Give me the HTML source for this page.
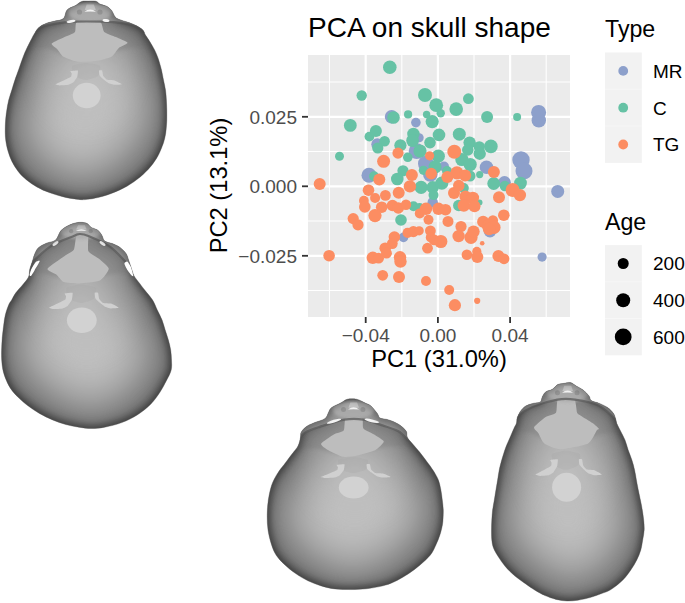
<!DOCTYPE html>
<html><head><meta charset="utf-8"><style>
html,body{margin:0;padding:0;background:#fff;width:685px;height:603px;overflow:hidden}
svg{display:block}
text{font-family:"Liberation Sans",sans-serif}
</style></head><body>
<svg width="685" height="603" viewBox="0 0 685 603">
<defs>
<filter id="sh0" x="-10%" y="-10%" width="120%" height="120%"><feMorphology operator="erode" radius="3"/><feGaussianBlur stdDeviation="6"/></filter><filter id="sh1" x="-10%" y="-10%" width="120%" height="120%"><feMorphology operator="erode" radius="16"/><feGaussianBlur stdDeviation="10"/></filter><filter id="sh2" x="-10%" y="-10%" width="120%" height="120%"><feMorphology operator="erode" radius="23"/><feGaussianBlur stdDeviation="19"/></filter><filter id="bu" x="-50%" y="-50%" width="200%" height="200%"><feGaussianBlur stdDeviation="10"/></filter><filter id="bl2" x="-20%" y="-20%" width="140%" height="140%"><feGaussianBlur stdDeviation="1.8"/></filter><filter id="be1" x="-20%" y="-20%" width="140%" height="140%"><feGaussianBlur stdDeviation="2.5"/></filter><filter id="be2" x="-20%" y="-20%" width="140%" height="140%"><feGaussianBlur stdDeviation="10"/></filter><filter id="bl1" x="-20%" y="-20%" width="140%" height="140%"><feGaussianBlur stdDeviation="0.7"/></filter>
</defs>
<!-- SKULLS -->
<g id="skulls">
<clipPath id="c0"><path d="M63.4,18.6 C65.5,16.7 65.1,12.1 67.1,9.9 C69.1,7.7 73.0,7.0 75.4,5.6 C77.8,4.2 79.4,2.3 81.6,1.5 C83.8,0.7 86.3,1.1 88.7,1.0 C91.1,0.9 94.0,0.7 95.9,1.2 C97.8,1.7 98.2,3.2 100.0,4.1 C101.8,5.0 105.1,5.4 107.0,6.4 C108.9,7.5 110.2,8.7 111.6,10.4 C112.9,12.1 113.9,15.3 115.1,16.8 C116.3,18.3 116.3,18.2 118.6,19.2 C120.9,20.2 125.9,21.5 129.0,22.6 C132.1,23.8 134.8,24.8 137.1,26.1 C139.4,27.4 141.6,28.8 143.0,30.2 C144.4,31.6 144.2,32.9 145.3,34.8 C146.5,36.7 148.4,39.3 149.9,41.8 C151.4,44.3 153.2,47.2 154.6,49.9 C155.9,52.6 156.8,54.6 158.0,58.0 C159.2,61.4 160.6,66.3 161.5,70.0 C162.4,73.7 162.8,76.7 163.5,80.0 C164.2,83.3 165.0,86.7 165.5,90.0 C166.0,93.3 166.2,96.7 166.4,100.0 C166.6,103.3 166.7,106.7 166.8,110.0 C166.9,113.3 166.9,116.7 166.8,120.0 C166.7,123.3 166.4,127.0 166.1,130.0 C165.8,133.0 165.4,135.4 164.8,138.0 C164.2,140.6 163.7,142.5 162.5,145.5 C161.3,148.5 159.9,152.5 157.9,156.0 C155.9,159.5 153.6,163.0 150.7,166.5 C147.8,170.0 144.1,173.7 140.2,177.0 C136.2,180.3 131.8,183.4 127.0,186.2 C122.2,188.9 116.5,191.5 111.3,193.5 C106.0,195.5 99.9,197.1 95.5,198.1 C91.1,199.1 87.8,199.4 85.0,199.6 C82.2,199.8 82.0,199.8 78.8,199.4 C75.6,199.0 70.5,198.5 65.7,197.4 C60.9,196.3 54.7,194.6 49.9,192.8 C45.1,191.1 40.7,189.1 36.8,186.9 C32.9,184.7 29.4,182.2 26.3,179.7 C23.2,177.2 20.8,174.9 18.4,171.8 C16.0,168.7 13.6,164.8 11.8,161.3 C10.1,157.8 8.9,154.1 7.9,150.8 C6.9,147.5 6.4,144.7 5.9,141.6 C5.5,138.5 5.2,135.6 5.2,132.0 C5.2,128.4 5.3,123.7 5.6,120.0 C5.9,116.3 6.3,113.3 6.8,110.0 C7.3,106.7 7.9,103.3 8.7,100.0 C9.5,96.7 10.8,93.3 11.8,90.0 C12.8,86.7 14.0,82.8 14.9,80.0 C15.8,77.2 16.6,75.3 17.4,73.0 C18.2,70.7 19.0,68.5 19.9,65.9 C20.8,63.3 21.9,60.1 23.0,57.2 C24.1,54.3 25.3,51.4 26.7,48.5 C28.1,45.6 29.8,42.4 31.1,39.8 C32.5,37.2 33.3,35.1 34.8,32.9 C36.2,30.7 37.7,28.3 39.8,26.7 C41.9,25.1 44.7,23.9 47.2,23.0 C49.7,22.1 52.0,21.8 54.7,21.1 C57.4,20.4 61.3,20.5 63.4,18.6Z"/></clipPath>
<path d="M63.4,18.6 C65.5,16.7 65.1,12.1 67.1,9.9 C69.1,7.7 73.0,7.0 75.4,5.6 C77.8,4.2 79.4,2.3 81.6,1.5 C83.8,0.7 86.3,1.1 88.7,1.0 C91.1,0.9 94.0,0.7 95.9,1.2 C97.8,1.7 98.2,3.2 100.0,4.1 C101.8,5.0 105.1,5.4 107.0,6.4 C108.9,7.5 110.2,8.7 111.6,10.4 C112.9,12.1 113.9,15.3 115.1,16.8 C116.3,18.3 116.3,18.2 118.6,19.2 C120.9,20.2 125.9,21.5 129.0,22.6 C132.1,23.8 134.8,24.8 137.1,26.1 C139.4,27.4 141.6,28.8 143.0,30.2 C144.4,31.6 144.2,32.9 145.3,34.8 C146.5,36.7 148.4,39.3 149.9,41.8 C151.4,44.3 153.2,47.2 154.6,49.9 C155.9,52.6 156.8,54.6 158.0,58.0 C159.2,61.4 160.6,66.3 161.5,70.0 C162.4,73.7 162.8,76.7 163.5,80.0 C164.2,83.3 165.0,86.7 165.5,90.0 C166.0,93.3 166.2,96.7 166.4,100.0 C166.6,103.3 166.7,106.7 166.8,110.0 C166.9,113.3 166.9,116.7 166.8,120.0 C166.7,123.3 166.4,127.0 166.1,130.0 C165.8,133.0 165.4,135.4 164.8,138.0 C164.2,140.6 163.7,142.5 162.5,145.5 C161.3,148.5 159.9,152.5 157.9,156.0 C155.9,159.5 153.6,163.0 150.7,166.5 C147.8,170.0 144.1,173.7 140.2,177.0 C136.2,180.3 131.8,183.4 127.0,186.2 C122.2,188.9 116.5,191.5 111.3,193.5 C106.0,195.5 99.9,197.1 95.5,198.1 C91.1,199.1 87.8,199.4 85.0,199.6 C82.2,199.8 82.0,199.8 78.8,199.4 C75.6,199.0 70.5,198.5 65.7,197.4 C60.9,196.3 54.7,194.6 49.9,192.8 C45.1,191.1 40.7,189.1 36.8,186.9 C32.9,184.7 29.4,182.2 26.3,179.7 C23.2,177.2 20.8,174.9 18.4,171.8 C16.0,168.7 13.6,164.8 11.8,161.3 C10.1,157.8 8.9,154.1 7.9,150.8 C6.9,147.5 6.4,144.7 5.9,141.6 C5.5,138.5 5.2,135.6 5.2,132.0 C5.2,128.4 5.3,123.7 5.6,120.0 C5.9,116.3 6.3,113.3 6.8,110.0 C7.3,106.7 7.9,103.3 8.7,100.0 C9.5,96.7 10.8,93.3 11.8,90.0 C12.8,86.7 14.0,82.8 14.9,80.0 C15.8,77.2 16.6,75.3 17.4,73.0 C18.2,70.7 19.0,68.5 19.9,65.9 C20.8,63.3 21.9,60.1 23.0,57.2 C24.1,54.3 25.3,51.4 26.7,48.5 C28.1,45.6 29.8,42.4 31.1,39.8 C32.5,37.2 33.3,35.1 34.8,32.9 C36.2,30.7 37.7,28.3 39.8,26.7 C41.9,25.1 44.7,23.9 47.2,23.0 C49.7,22.1 52.0,21.8 54.7,21.1 C57.4,20.4 61.3,20.5 63.4,18.6Z" fill="rgb(70,70,70)"/>
<g clip-path="url(#c0)"><path d="M63.4,18.6 C65.5,16.7 65.1,12.1 67.1,9.9 C69.1,7.7 73.0,7.0 75.4,5.6 C77.8,4.2 79.4,2.3 81.6,1.5 C83.8,0.7 86.3,1.1 88.7,1.0 C91.1,0.9 94.0,0.7 95.9,1.2 C97.8,1.7 98.2,3.2 100.0,4.1 C101.8,5.0 105.1,5.4 107.0,6.4 C108.9,7.5 110.2,8.7 111.6,10.4 C112.9,12.1 113.9,15.3 115.1,16.8 C116.3,18.3 116.3,18.2 118.6,19.2 C120.9,20.2 125.9,21.5 129.0,22.6 C132.1,23.8 134.8,24.8 137.1,26.1 C139.4,27.4 141.6,28.8 143.0,30.2 C144.4,31.6 144.2,32.9 145.3,34.8 C146.5,36.7 148.4,39.3 149.9,41.8 C151.4,44.3 153.2,47.2 154.6,49.9 C155.9,52.6 156.8,54.6 158.0,58.0 C159.2,61.4 160.6,66.3 161.5,70.0 C162.4,73.7 162.8,76.7 163.5,80.0 C164.2,83.3 165.0,86.7 165.5,90.0 C166.0,93.3 166.2,96.7 166.4,100.0 C166.6,103.3 166.7,106.7 166.8,110.0 C166.9,113.3 166.9,116.7 166.8,120.0 C166.7,123.3 166.4,127.0 166.1,130.0 C165.8,133.0 165.4,135.4 164.8,138.0 C164.2,140.6 163.7,142.5 162.5,145.5 C161.3,148.5 159.9,152.5 157.9,156.0 C155.9,159.5 153.6,163.0 150.7,166.5 C147.8,170.0 144.1,173.7 140.2,177.0 C136.2,180.3 131.8,183.4 127.0,186.2 C122.2,188.9 116.5,191.5 111.3,193.5 C106.0,195.5 99.9,197.1 95.5,198.1 C91.1,199.1 87.8,199.4 85.0,199.6 C82.2,199.8 82.0,199.8 78.8,199.4 C75.6,199.0 70.5,198.5 65.7,197.4 C60.9,196.3 54.7,194.6 49.9,192.8 C45.1,191.1 40.7,189.1 36.8,186.9 C32.9,184.7 29.4,182.2 26.3,179.7 C23.2,177.2 20.8,174.9 18.4,171.8 C16.0,168.7 13.6,164.8 11.8,161.3 C10.1,157.8 8.9,154.1 7.9,150.8 C6.9,147.5 6.4,144.7 5.9,141.6 C5.5,138.5 5.2,135.6 5.2,132.0 C5.2,128.4 5.3,123.7 5.6,120.0 C5.9,116.3 6.3,113.3 6.8,110.0 C7.3,106.7 7.9,103.3 8.7,100.0 C9.5,96.7 10.8,93.3 11.8,90.0 C12.8,86.7 14.0,82.8 14.9,80.0 C15.8,77.2 16.6,75.3 17.4,73.0 C18.2,70.7 19.0,68.5 19.9,65.9 C20.8,63.3 21.9,60.1 23.0,57.2 C24.1,54.3 25.3,51.4 26.7,48.5 C28.1,45.6 29.8,42.4 31.1,39.8 C32.5,37.2 33.3,35.1 34.8,32.9 C36.2,30.7 37.7,28.3 39.8,26.7 C41.9,25.1 44.7,23.9 47.2,23.0 C49.7,22.1 52.0,21.8 54.7,21.1 C57.4,20.4 61.3,20.5 63.4,18.6Z" fill="rgb(192,192,192)" fill-opacity="0.4" filter="url(#sh0)"/><path d="M63.4,18.6 C65.5,16.7 65.1,12.1 67.1,9.9 C69.1,7.7 73.0,7.0 75.4,5.6 C77.8,4.2 79.4,2.3 81.6,1.5 C83.8,0.7 86.3,1.1 88.7,1.0 C91.1,0.9 94.0,0.7 95.9,1.2 C97.8,1.7 98.2,3.2 100.0,4.1 C101.8,5.0 105.1,5.4 107.0,6.4 C108.9,7.5 110.2,8.7 111.6,10.4 C112.9,12.1 113.9,15.3 115.1,16.8 C116.3,18.3 116.3,18.2 118.6,19.2 C120.9,20.2 125.9,21.5 129.0,22.6 C132.1,23.8 134.8,24.8 137.1,26.1 C139.4,27.4 141.6,28.8 143.0,30.2 C144.4,31.6 144.2,32.9 145.3,34.8 C146.5,36.7 148.4,39.3 149.9,41.8 C151.4,44.3 153.2,47.2 154.6,49.9 C155.9,52.6 156.8,54.6 158.0,58.0 C159.2,61.4 160.6,66.3 161.5,70.0 C162.4,73.7 162.8,76.7 163.5,80.0 C164.2,83.3 165.0,86.7 165.5,90.0 C166.0,93.3 166.2,96.7 166.4,100.0 C166.6,103.3 166.7,106.7 166.8,110.0 C166.9,113.3 166.9,116.7 166.8,120.0 C166.7,123.3 166.4,127.0 166.1,130.0 C165.8,133.0 165.4,135.4 164.8,138.0 C164.2,140.6 163.7,142.5 162.5,145.5 C161.3,148.5 159.9,152.5 157.9,156.0 C155.9,159.5 153.6,163.0 150.7,166.5 C147.8,170.0 144.1,173.7 140.2,177.0 C136.2,180.3 131.8,183.4 127.0,186.2 C122.2,188.9 116.5,191.5 111.3,193.5 C106.0,195.5 99.9,197.1 95.5,198.1 C91.1,199.1 87.8,199.4 85.0,199.6 C82.2,199.8 82.0,199.8 78.8,199.4 C75.6,199.0 70.5,198.5 65.7,197.4 C60.9,196.3 54.7,194.6 49.9,192.8 C45.1,191.1 40.7,189.1 36.8,186.9 C32.9,184.7 29.4,182.2 26.3,179.7 C23.2,177.2 20.8,174.9 18.4,171.8 C16.0,168.7 13.6,164.8 11.8,161.3 C10.1,157.8 8.9,154.1 7.9,150.8 C6.9,147.5 6.4,144.7 5.9,141.6 C5.5,138.5 5.2,135.6 5.2,132.0 C5.2,128.4 5.3,123.7 5.6,120.0 C5.9,116.3 6.3,113.3 6.8,110.0 C7.3,106.7 7.9,103.3 8.7,100.0 C9.5,96.7 10.8,93.3 11.8,90.0 C12.8,86.7 14.0,82.8 14.9,80.0 C15.8,77.2 16.6,75.3 17.4,73.0 C18.2,70.7 19.0,68.5 19.9,65.9 C20.8,63.3 21.9,60.1 23.0,57.2 C24.1,54.3 25.3,51.4 26.7,48.5 C28.1,45.6 29.8,42.4 31.1,39.8 C32.5,37.2 33.3,35.1 34.8,32.9 C36.2,30.7 37.7,28.3 39.8,26.7 C41.9,25.1 44.7,23.9 47.2,23.0 C49.7,22.1 52.0,21.8 54.7,21.1 C57.4,20.4 61.3,20.5 63.4,18.6Z" fill="rgb(192,192,192)" fill-opacity="0.25" filter="url(#sh1)"/><path d="M63.4,18.6 C65.5,16.7 65.1,12.1 67.1,9.9 C69.1,7.7 73.0,7.0 75.4,5.6 C77.8,4.2 79.4,2.3 81.6,1.5 C83.8,0.7 86.3,1.1 88.7,1.0 C91.1,0.9 94.0,0.7 95.9,1.2 C97.8,1.7 98.2,3.2 100.0,4.1 C101.8,5.0 105.1,5.4 107.0,6.4 C108.9,7.5 110.2,8.7 111.6,10.4 C112.9,12.1 113.9,15.3 115.1,16.8 C116.3,18.3 116.3,18.2 118.6,19.2 C120.9,20.2 125.9,21.5 129.0,22.6 C132.1,23.8 134.8,24.8 137.1,26.1 C139.4,27.4 141.6,28.8 143.0,30.2 C144.4,31.6 144.2,32.9 145.3,34.8 C146.5,36.7 148.4,39.3 149.9,41.8 C151.4,44.3 153.2,47.2 154.6,49.9 C155.9,52.6 156.8,54.6 158.0,58.0 C159.2,61.4 160.6,66.3 161.5,70.0 C162.4,73.7 162.8,76.7 163.5,80.0 C164.2,83.3 165.0,86.7 165.5,90.0 C166.0,93.3 166.2,96.7 166.4,100.0 C166.6,103.3 166.7,106.7 166.8,110.0 C166.9,113.3 166.9,116.7 166.8,120.0 C166.7,123.3 166.4,127.0 166.1,130.0 C165.8,133.0 165.4,135.4 164.8,138.0 C164.2,140.6 163.7,142.5 162.5,145.5 C161.3,148.5 159.9,152.5 157.9,156.0 C155.9,159.5 153.6,163.0 150.7,166.5 C147.8,170.0 144.1,173.7 140.2,177.0 C136.2,180.3 131.8,183.4 127.0,186.2 C122.2,188.9 116.5,191.5 111.3,193.5 C106.0,195.5 99.9,197.1 95.5,198.1 C91.1,199.1 87.8,199.4 85.0,199.6 C82.2,199.8 82.0,199.8 78.8,199.4 C75.6,199.0 70.5,198.5 65.7,197.4 C60.9,196.3 54.7,194.6 49.9,192.8 C45.1,191.1 40.7,189.1 36.8,186.9 C32.9,184.7 29.4,182.2 26.3,179.7 C23.2,177.2 20.8,174.9 18.4,171.8 C16.0,168.7 13.6,164.8 11.8,161.3 C10.1,157.8 8.9,154.1 7.9,150.8 C6.9,147.5 6.4,144.7 5.9,141.6 C5.5,138.5 5.2,135.6 5.2,132.0 C5.2,128.4 5.3,123.7 5.6,120.0 C5.9,116.3 6.3,113.3 6.8,110.0 C7.3,106.7 7.9,103.3 8.7,100.0 C9.5,96.7 10.8,93.3 11.8,90.0 C12.8,86.7 14.0,82.8 14.9,80.0 C15.8,77.2 16.6,75.3 17.4,73.0 C18.2,70.7 19.0,68.5 19.9,65.9 C20.8,63.3 21.9,60.1 23.0,57.2 C24.1,54.3 25.3,51.4 26.7,48.5 C28.1,45.6 29.8,42.4 31.1,39.8 C32.5,37.2 33.3,35.1 34.8,32.9 C36.2,30.7 37.7,28.3 39.8,26.7 C41.9,25.1 44.7,23.9 47.2,23.0 C49.7,22.1 52.0,21.8 54.7,21.1 C57.4,20.4 61.3,20.5 63.4,18.6Z" fill="rgb(192,192,192)" fill-opacity="1.0" filter="url(#sh2)"/></g>
<g clip-path="url(#c0)">
<ellipse cx="86.0" cy="68.6" rx="48.5" ry="59.0" fill="rgb(190,190,190)" opacity="0.2" filter="url(#bu)"/>
<path d="M28.0,37.0 C29.4,35.0 37.3,28.8 40.0,27.5 C42.7,26.2 51.0,24.5 54.6,23.9 C58.2,23.3 71.8,21.9 76.5,21.7 C81.2,21.5 96.8,21.6 101.3,21.7 C105.8,21.8 118.0,22.5 121.8,23.1 C125.6,23.7 136.5,26.1 139.3,27.5 C142.1,28.9 148.7,35.1 150.0,37.0 C151.3,38.9 153.8,45.7 152.0,46.8 C150.2,47.9 139.0,46.5 131.6,47.8 C124.2,49.1 86.4,59.7 78.0,59.8 C69.6,59.9 52.9,49.8 47.7,48.6 C42.5,47.4 28.0,48.8 26.0,47.6 C24.0,46.4 26.6,39.0 28.0,37.0Z" fill="#6e6e6e" opacity="0.22" filter="url(#bl2)"/>
<path d="M77.2,21.7 C74.7,22.7 76.1,30.4 75.0,31.9 C73.9,33.4 68.6,35.1 66.3,36.3 C64.0,37.5 52.6,42.3 51.7,43.6 C50.8,44.9 56.3,48.1 57.5,49.4 C58.7,50.7 61.4,55.5 63.4,56.7 C65.5,57.9 74.8,61.4 78.0,61.8 C81.2,62.2 92.2,61.6 95.5,61.1 C98.8,60.6 109.2,58.0 111.5,56.7 C113.8,55.4 117.2,49.4 118.8,48.0 C120.4,46.6 127.9,43.9 127.6,42.8 C127.3,41.7 118.2,38.1 115.9,37.0 C113.6,35.9 105.8,33.4 104.2,31.9 C102.6,30.4 102.6,22.7 99.9,21.7 C97.2,20.7 79.7,20.7 77.2,21.7Z" fill="#bdbdbd"/>
<path d="M28.0,21.0 C29.2,18.4 37.3,12.8 40.0,11.5 C42.7,10.2 51.0,8.5 54.6,7.9 C58.2,7.3 71.8,5.9 76.5,5.7 C81.2,5.5 96.8,5.6 101.3,5.7 C105.8,5.8 118.0,6.5 121.8,7.1 C125.6,7.7 136.5,10.1 139.3,11.5 C142.1,12.9 148.9,18.4 150.0,21.0 C151.1,23.6 151.1,36.4 150.0,37.0 C148.9,37.6 142.1,28.9 139.3,27.5 C136.5,26.1 125.6,23.7 121.8,23.1 C118.0,22.5 105.8,21.8 101.3,21.7 C96.8,21.6 81.2,21.5 76.5,21.7 C71.8,21.9 58.2,23.3 54.6,23.9 C51.0,24.5 42.7,26.2 40.0,27.5 C37.3,28.8 29.2,37.6 28.0,37.0 C26.8,36.4 26.8,23.6 28.0,21.0Z" fill="#a6a6a6" opacity="0.6" filter="url(#bl1)"/>
<ellipse cx="90.0" cy="12.0" rx="22.0" ry="10.0" fill="#adadad" opacity="0.85" filter="url(#bl2)"/>
<path d="M86.7,4.5 L93.9,4.5 L95.8,10.0 L84.7,10.0 Z" fill="#c6c6c6" opacity="0.9"/>
<path d="M84.4,11.8 Q90.2,7.2 96.0,11.8 Q90.2,11.2 84.4,11.8 Z" fill="#f2f2f2"/>
<circle cx="79.5" cy="12.0" r="2.6" fill="#6a6a6a" opacity="0.35"/>
<circle cx="100.0" cy="12.0" r="2.6" fill="#6a6a6a" opacity="0.35"/>
<path d="M28.0,37.0 C30.0,35.4 35.6,29.7 40.0,27.5 C44.4,25.3 48.5,24.9 54.6,23.9 C60.7,22.9 68.7,22.1 76.5,21.7 C84.3,21.3 93.8,21.5 101.3,21.7 C108.8,21.9 115.5,22.1 121.8,23.1 C128.1,24.1 134.6,25.2 139.3,27.5 C144.0,29.8 148.2,35.4 150.0,37.0" fill="none" stroke="#5f5f5f" stroke-width="2.2" stroke-opacity="0.8"/>
<ellipse cx="71" cy="21.3" rx="4.5" ry="1.4" fill="#f4f4f4" transform="rotate(-10 71 21.3)"/>
<ellipse cx="106" cy="20.5" rx="3.5" ry="1.4" fill="#f4f4f4" transform="rotate(10 106 20.5)"/>
<path d="M72.0,66.0 C73.1,64.7 83.2,63.0 86.0,63.0 C88.8,63.0 98.8,64.7 100.0,66.0 C101.2,67.3 99.4,74.6 98.0,76.0 C96.6,77.4 88.3,80.0 86.0,80.0 C83.7,80.0 76.4,77.4 75.0,76.0 C73.6,74.6 70.9,67.3 72.0,66.0Z" fill="#a0a0a0" opacity="0.2"/>
<path d="M55.5,84.2 C55.7,84.0 62.8,80.8 63.6,80.4 C64.4,80.0 70.7,77.0 71.1,76.7 C71.5,76.4 71.7,73.9 71.7,73.6 C71.7,73.3 70.1,71.3 70.4,71.1 C70.7,70.9 77.6,70.2 77.9,70.5 C78.2,70.8 77.5,76.1 77.3,76.7 C77.1,77.3 73.9,81.9 73.5,82.3 C73.1,82.7 69.3,84.6 68.6,84.8 C67.9,85.0 60.6,85.4 59.9,85.4 C59.2,85.4 55.3,84.5 55.5,84.2Z" fill="#d0d0d0"/>
<path d="M99.0,70.5 C99.2,70.2 101.8,70.1 102.1,70.5 C102.4,70.9 103.0,75.5 103.3,76.1 C103.6,76.7 106.3,79.5 107.0,79.8 C107.7,80.1 113.5,80.1 114.5,80.4 C115.5,80.7 121.9,83.9 121.9,84.2 C121.9,84.5 115.4,84.9 114.5,84.8 C113.6,84.7 109.0,83.4 108.3,83.0 C107.6,82.6 103.9,79.7 103.3,79.2 C102.7,78.7 99.9,76.1 99.6,75.5 C99.3,74.9 98.8,70.8 99.0,70.5Z" fill="#d0d0d0"/>
<ellipse cx="86.7" cy="95.5" rx="13.9" ry="12.8" fill="#d2d2d2"/>
</g>
<g clip-path="url(#c0)"><path d="M63.4,18.6 C65.5,16.7 65.1,12.1 67.1,9.9 C69.1,7.7 73.0,7.0 75.4,5.6 C77.8,4.2 79.4,2.3 81.6,1.5 C83.8,0.7 86.3,1.1 88.7,1.0 C91.1,0.9 94.0,0.7 95.9,1.2 C97.8,1.7 98.2,3.2 100.0,4.1 C101.8,5.0 105.1,5.4 107.0,6.4 C108.9,7.5 110.2,8.7 111.6,10.4 C112.9,12.1 113.9,15.3 115.1,16.8 C116.3,18.3 116.3,18.2 118.6,19.2 C120.9,20.2 125.9,21.5 129.0,22.6 C132.1,23.8 134.8,24.8 137.1,26.1 C139.4,27.4 141.6,28.8 143.0,30.2 C144.4,31.6 144.2,32.9 145.3,34.8 C146.5,36.7 148.4,39.3 149.9,41.8 C151.4,44.3 153.2,47.2 154.6,49.9 C155.9,52.6 156.8,54.6 158.0,58.0 C159.2,61.4 160.6,66.3 161.5,70.0 C162.4,73.7 162.8,76.7 163.5,80.0 C164.2,83.3 165.0,86.7 165.5,90.0 C166.0,93.3 166.2,96.7 166.4,100.0 C166.6,103.3 166.7,106.7 166.8,110.0 C166.9,113.3 166.9,116.7 166.8,120.0 C166.7,123.3 166.4,127.0 166.1,130.0 C165.8,133.0 165.4,135.4 164.8,138.0 C164.2,140.6 163.7,142.5 162.5,145.5 C161.3,148.5 159.9,152.5 157.9,156.0 C155.9,159.5 153.6,163.0 150.7,166.5 C147.8,170.0 144.1,173.7 140.2,177.0 C136.2,180.3 131.8,183.4 127.0,186.2 C122.2,188.9 116.5,191.5 111.3,193.5 C106.0,195.5 99.9,197.1 95.5,198.1 C91.1,199.1 87.8,199.4 85.0,199.6 C82.2,199.8 82.0,199.8 78.8,199.4 C75.6,199.0 70.5,198.5 65.7,197.4 C60.9,196.3 54.7,194.6 49.9,192.8 C45.1,191.1 40.7,189.1 36.8,186.9 C32.9,184.7 29.4,182.2 26.3,179.7 C23.2,177.2 20.8,174.9 18.4,171.8 C16.0,168.7 13.6,164.8 11.8,161.3 C10.1,157.8 8.9,154.1 7.9,150.8 C6.9,147.5 6.4,144.7 5.9,141.6 C5.5,138.5 5.2,135.6 5.2,132.0 C5.2,128.4 5.3,123.7 5.6,120.0 C5.9,116.3 6.3,113.3 6.8,110.0 C7.3,106.7 7.9,103.3 8.7,100.0 C9.5,96.7 10.8,93.3 11.8,90.0 C12.8,86.7 14.0,82.8 14.9,80.0 C15.8,77.2 16.6,75.3 17.4,73.0 C18.2,70.7 19.0,68.5 19.9,65.9 C20.8,63.3 21.9,60.1 23.0,57.2 C24.1,54.3 25.3,51.4 26.7,48.5 C28.1,45.6 29.8,42.4 31.1,39.8 C32.5,37.2 33.3,35.1 34.8,32.9 C36.2,30.7 37.7,28.3 39.8,26.7 C41.9,25.1 44.7,23.9 47.2,23.0 C49.7,22.1 52.0,21.8 54.7,21.1 C57.4,20.4 61.3,20.5 63.4,18.6Z" fill="none" stroke="#000" stroke-width="6" stroke-opacity="0.2" filter="url(#be1)"/><path d="M63.4,18.6 C65.5,16.7 65.1,12.1 67.1,9.9 C69.1,7.7 73.0,7.0 75.4,5.6 C77.8,4.2 79.4,2.3 81.6,1.5 C83.8,0.7 86.3,1.1 88.7,1.0 C91.1,0.9 94.0,0.7 95.9,1.2 C97.8,1.7 98.2,3.2 100.0,4.1 C101.8,5.0 105.1,5.4 107.0,6.4 C108.9,7.5 110.2,8.7 111.6,10.4 C112.9,12.1 113.9,15.3 115.1,16.8 C116.3,18.3 116.3,18.2 118.6,19.2 C120.9,20.2 125.9,21.5 129.0,22.6 C132.1,23.8 134.8,24.8 137.1,26.1 C139.4,27.4 141.6,28.8 143.0,30.2 C144.4,31.6 144.2,32.9 145.3,34.8 C146.5,36.7 148.4,39.3 149.9,41.8 C151.4,44.3 153.2,47.2 154.6,49.9 C155.9,52.6 156.8,54.6 158.0,58.0 C159.2,61.4 160.6,66.3 161.5,70.0 C162.4,73.7 162.8,76.7 163.5,80.0 C164.2,83.3 165.0,86.7 165.5,90.0 C166.0,93.3 166.2,96.7 166.4,100.0 C166.6,103.3 166.7,106.7 166.8,110.0 C166.9,113.3 166.9,116.7 166.8,120.0 C166.7,123.3 166.4,127.0 166.1,130.0 C165.8,133.0 165.4,135.4 164.8,138.0 C164.2,140.6 163.7,142.5 162.5,145.5 C161.3,148.5 159.9,152.5 157.9,156.0 C155.9,159.5 153.6,163.0 150.7,166.5 C147.8,170.0 144.1,173.7 140.2,177.0 C136.2,180.3 131.8,183.4 127.0,186.2 C122.2,188.9 116.5,191.5 111.3,193.5 C106.0,195.5 99.9,197.1 95.5,198.1 C91.1,199.1 87.8,199.4 85.0,199.6 C82.2,199.8 82.0,199.8 78.8,199.4 C75.6,199.0 70.5,198.5 65.7,197.4 C60.9,196.3 54.7,194.6 49.9,192.8 C45.1,191.1 40.7,189.1 36.8,186.9 C32.9,184.7 29.4,182.2 26.3,179.7 C23.2,177.2 20.8,174.9 18.4,171.8 C16.0,168.7 13.6,164.8 11.8,161.3 C10.1,157.8 8.9,154.1 7.9,150.8 C6.9,147.5 6.4,144.7 5.9,141.6 C5.5,138.5 5.2,135.6 5.2,132.0 C5.2,128.4 5.3,123.7 5.6,120.0 C5.9,116.3 6.3,113.3 6.8,110.0 C7.3,106.7 7.9,103.3 8.7,100.0 C9.5,96.7 10.8,93.3 11.8,90.0 C12.8,86.7 14.0,82.8 14.9,80.0 C15.8,77.2 16.6,75.3 17.4,73.0 C18.2,70.7 19.0,68.5 19.9,65.9 C20.8,63.3 21.9,60.1 23.0,57.2 C24.1,54.3 25.3,51.4 26.7,48.5 C28.1,45.6 29.8,42.4 31.1,39.8 C32.5,37.2 33.3,35.1 34.8,32.9 C36.2,30.7 37.7,28.3 39.8,26.7 C41.9,25.1 44.7,23.9 47.2,23.0 C49.7,22.1 52.0,21.8 54.7,21.1 C57.4,20.4 61.3,20.5 63.4,18.6Z" fill="none" stroke="#000" stroke-width="40" stroke-opacity="0.0" filter="url(#be2)"/></g>
<path d="M63.4,18.6 C65.5,16.7 65.1,12.1 67.1,9.9 C69.1,7.7 73.0,7.0 75.4,5.6 C77.8,4.2 79.4,2.3 81.6,1.5 C83.8,0.7 86.3,1.1 88.7,1.0 C91.1,0.9 94.0,0.7 95.9,1.2 C97.8,1.7 98.2,3.2 100.0,4.1 C101.8,5.0 105.1,5.4 107.0,6.4 C108.9,7.5 110.2,8.7 111.6,10.4 C112.9,12.1 113.9,15.3 115.1,16.8 C116.3,18.3 116.3,18.2 118.6,19.2 C120.9,20.2 125.9,21.5 129.0,22.6 C132.1,23.8 134.8,24.8 137.1,26.1 C139.4,27.4 141.6,28.8 143.0,30.2 C144.4,31.6 144.2,32.9 145.3,34.8 C146.5,36.7 148.4,39.3 149.9,41.8 C151.4,44.3 153.2,47.2 154.6,49.9 C155.9,52.6 156.8,54.6 158.0,58.0 C159.2,61.4 160.6,66.3 161.5,70.0 C162.4,73.7 162.8,76.7 163.5,80.0 C164.2,83.3 165.0,86.7 165.5,90.0 C166.0,93.3 166.2,96.7 166.4,100.0 C166.6,103.3 166.7,106.7 166.8,110.0 C166.9,113.3 166.9,116.7 166.8,120.0 C166.7,123.3 166.4,127.0 166.1,130.0 C165.8,133.0 165.4,135.4 164.8,138.0 C164.2,140.6 163.7,142.5 162.5,145.5 C161.3,148.5 159.9,152.5 157.9,156.0 C155.9,159.5 153.6,163.0 150.7,166.5 C147.8,170.0 144.1,173.7 140.2,177.0 C136.2,180.3 131.8,183.4 127.0,186.2 C122.2,188.9 116.5,191.5 111.3,193.5 C106.0,195.5 99.9,197.1 95.5,198.1 C91.1,199.1 87.8,199.4 85.0,199.6 C82.2,199.8 82.0,199.8 78.8,199.4 C75.6,199.0 70.5,198.5 65.7,197.4 C60.9,196.3 54.7,194.6 49.9,192.8 C45.1,191.1 40.7,189.1 36.8,186.9 C32.9,184.7 29.4,182.2 26.3,179.7 C23.2,177.2 20.8,174.9 18.4,171.8 C16.0,168.7 13.6,164.8 11.8,161.3 C10.1,157.8 8.9,154.1 7.9,150.8 C6.9,147.5 6.4,144.7 5.9,141.6 C5.5,138.5 5.2,135.6 5.2,132.0 C5.2,128.4 5.3,123.7 5.6,120.0 C5.9,116.3 6.3,113.3 6.8,110.0 C7.3,106.7 7.9,103.3 8.7,100.0 C9.5,96.7 10.8,93.3 11.8,90.0 C12.8,86.7 14.0,82.8 14.9,80.0 C15.8,77.2 16.6,75.3 17.4,73.0 C18.2,70.7 19.0,68.5 19.9,65.9 C20.8,63.3 21.9,60.1 23.0,57.2 C24.1,54.3 25.3,51.4 26.7,48.5 C28.1,45.6 29.8,42.4 31.1,39.8 C32.5,37.2 33.3,35.1 34.8,32.9 C36.2,30.7 37.7,28.3 39.8,26.7 C41.9,25.1 44.7,23.9 47.2,23.0 C49.7,22.1 52.0,21.8 54.7,21.1 C57.4,20.4 61.3,20.5 63.4,18.6Z" fill="none" stroke="#555" stroke-width="0.7" stroke-opacity="0.5"/>
<clipPath id="c1"><path d="M68.9,225.3 C71.7,224.0 74.6,222.9 77.5,222.5 C80.4,222.1 83.9,222.3 86.2,223.1 C88.5,223.9 89.3,226.3 91.2,227.4 C93.1,228.5 95.7,228.7 97.4,229.9 C99.2,231.2 100.5,233.0 101.7,234.9 C102.9,236.8 103.0,239.7 104.8,241.1 C106.6,242.5 109.8,242.6 112.3,243.6 C114.8,244.6 117.5,245.7 119.8,247.3 C122.1,249.0 124.5,251.4 126.0,253.5 C127.5,255.6 127.7,257.5 128.5,259.8 C129.3,262.1 130.1,264.5 131.0,267.2 C131.9,269.9 132.7,273.2 134.1,275.9 C135.5,278.6 137.9,281.0 139.7,283.4 C141.5,285.8 142.5,287.2 144.7,290.0 C146.8,292.8 150.5,296.7 152.6,300.0 C154.7,303.3 155.7,306.7 157.3,310.0 C158.9,313.3 160.8,316.7 162.1,320.0 C163.4,323.3 164.1,326.7 165.2,330.0 C166.2,333.3 167.5,336.7 168.4,340.0 C169.3,343.3 170.2,346.7 170.7,350.0 C171.2,353.3 171.4,356.7 171.5,360.0 C171.6,363.3 172.0,366.6 171.2,370.0 C170.4,373.4 168.4,376.8 166.5,380.5 C164.6,384.2 162.5,388.4 159.9,392.3 C157.3,396.2 154.4,400.5 150.7,404.2 C147.0,407.9 142.4,411.6 137.6,414.7 C132.8,417.8 127.3,420.5 121.8,422.6 C116.3,424.7 109.7,426.2 104.7,427.2 C99.7,428.2 95.9,428.5 91.6,428.5 C87.3,428.5 83.1,427.9 78.8,427.2 C74.5,426.5 70.1,425.7 65.7,424.5 C61.3,423.3 57.0,421.8 52.6,419.9 C48.2,418.0 43.6,415.8 39.4,413.4 C35.2,411.0 31.1,408.1 27.6,405.5 C24.1,402.9 21.2,400.5 18.4,397.6 C15.5,394.8 12.7,391.7 10.5,388.4 C8.3,385.1 6.6,381.1 5.3,377.9 C4.0,374.7 3.3,372.0 2.7,369.0 C2.1,366.0 1.9,363.2 1.7,360.0 C1.5,356.8 1.5,353.7 1.6,350.0 C1.7,346.3 1.9,342.2 2.2,338.0 C2.6,333.8 3.2,328.8 3.7,325.0 C4.2,321.2 4.5,318.3 5.3,315.0 C6.1,311.7 7.5,307.6 8.6,305.0 C9.7,302.4 10.7,301.6 11.9,299.5 C13.1,297.4 14.2,294.9 16.0,292.5 C17.8,290.1 20.4,287.6 22.5,285.0 C24.6,282.4 27.3,279.6 28.5,277.0 C29.7,274.4 29.1,271.8 29.8,269.1 C30.5,266.5 31.7,263.5 32.5,261.1 C33.3,258.7 33.5,256.7 34.5,254.5 C35.5,252.3 36.4,249.7 38.4,247.8 C40.4,245.9 43.5,244.5 46.4,243.2 C49.3,241.9 53.3,242.0 55.7,239.9 C58.1,237.8 58.8,233.0 61.0,230.6 C63.2,228.2 66.2,226.7 68.9,225.3Z"/></clipPath>
<path d="M68.9,225.3 C71.7,224.0 74.6,222.9 77.5,222.5 C80.4,222.1 83.9,222.3 86.2,223.1 C88.5,223.9 89.3,226.3 91.2,227.4 C93.1,228.5 95.7,228.7 97.4,229.9 C99.2,231.2 100.5,233.0 101.7,234.9 C102.9,236.8 103.0,239.7 104.8,241.1 C106.6,242.5 109.8,242.6 112.3,243.6 C114.8,244.6 117.5,245.7 119.8,247.3 C122.1,249.0 124.5,251.4 126.0,253.5 C127.5,255.6 127.7,257.5 128.5,259.8 C129.3,262.1 130.1,264.5 131.0,267.2 C131.9,269.9 132.7,273.2 134.1,275.9 C135.5,278.6 137.9,281.0 139.7,283.4 C141.5,285.8 142.5,287.2 144.7,290.0 C146.8,292.8 150.5,296.7 152.6,300.0 C154.7,303.3 155.7,306.7 157.3,310.0 C158.9,313.3 160.8,316.7 162.1,320.0 C163.4,323.3 164.1,326.7 165.2,330.0 C166.2,333.3 167.5,336.7 168.4,340.0 C169.3,343.3 170.2,346.7 170.7,350.0 C171.2,353.3 171.4,356.7 171.5,360.0 C171.6,363.3 172.0,366.6 171.2,370.0 C170.4,373.4 168.4,376.8 166.5,380.5 C164.6,384.2 162.5,388.4 159.9,392.3 C157.3,396.2 154.4,400.5 150.7,404.2 C147.0,407.9 142.4,411.6 137.6,414.7 C132.8,417.8 127.3,420.5 121.8,422.6 C116.3,424.7 109.7,426.2 104.7,427.2 C99.7,428.2 95.9,428.5 91.6,428.5 C87.3,428.5 83.1,427.9 78.8,427.2 C74.5,426.5 70.1,425.7 65.7,424.5 C61.3,423.3 57.0,421.8 52.6,419.9 C48.2,418.0 43.6,415.8 39.4,413.4 C35.2,411.0 31.1,408.1 27.6,405.5 C24.1,402.9 21.2,400.5 18.4,397.6 C15.5,394.8 12.7,391.7 10.5,388.4 C8.3,385.1 6.6,381.1 5.3,377.9 C4.0,374.7 3.3,372.0 2.7,369.0 C2.1,366.0 1.9,363.2 1.7,360.0 C1.5,356.8 1.5,353.7 1.6,350.0 C1.7,346.3 1.9,342.2 2.2,338.0 C2.6,333.8 3.2,328.8 3.7,325.0 C4.2,321.2 4.5,318.3 5.3,315.0 C6.1,311.7 7.5,307.6 8.6,305.0 C9.7,302.4 10.7,301.6 11.9,299.5 C13.1,297.4 14.2,294.9 16.0,292.5 C17.8,290.1 20.4,287.6 22.5,285.0 C24.6,282.4 27.3,279.6 28.5,277.0 C29.7,274.4 29.1,271.8 29.8,269.1 C30.5,266.5 31.7,263.5 32.5,261.1 C33.3,258.7 33.5,256.7 34.5,254.5 C35.5,252.3 36.4,249.7 38.4,247.8 C40.4,245.9 43.5,244.5 46.4,243.2 C49.3,241.9 53.3,242.0 55.7,239.9 C58.1,237.8 58.8,233.0 61.0,230.6 C63.2,228.2 66.2,226.7 68.9,225.3Z" fill="rgb(70,70,70)"/>
<g clip-path="url(#c1)"><path d="M68.9,225.3 C71.7,224.0 74.6,222.9 77.5,222.5 C80.4,222.1 83.9,222.3 86.2,223.1 C88.5,223.9 89.3,226.3 91.2,227.4 C93.1,228.5 95.7,228.7 97.4,229.9 C99.2,231.2 100.5,233.0 101.7,234.9 C102.9,236.8 103.0,239.7 104.8,241.1 C106.6,242.5 109.8,242.6 112.3,243.6 C114.8,244.6 117.5,245.7 119.8,247.3 C122.1,249.0 124.5,251.4 126.0,253.5 C127.5,255.6 127.7,257.5 128.5,259.8 C129.3,262.1 130.1,264.5 131.0,267.2 C131.9,269.9 132.7,273.2 134.1,275.9 C135.5,278.6 137.9,281.0 139.7,283.4 C141.5,285.8 142.5,287.2 144.7,290.0 C146.8,292.8 150.5,296.7 152.6,300.0 C154.7,303.3 155.7,306.7 157.3,310.0 C158.9,313.3 160.8,316.7 162.1,320.0 C163.4,323.3 164.1,326.7 165.2,330.0 C166.2,333.3 167.5,336.7 168.4,340.0 C169.3,343.3 170.2,346.7 170.7,350.0 C171.2,353.3 171.4,356.7 171.5,360.0 C171.6,363.3 172.0,366.6 171.2,370.0 C170.4,373.4 168.4,376.8 166.5,380.5 C164.6,384.2 162.5,388.4 159.9,392.3 C157.3,396.2 154.4,400.5 150.7,404.2 C147.0,407.9 142.4,411.6 137.6,414.7 C132.8,417.8 127.3,420.5 121.8,422.6 C116.3,424.7 109.7,426.2 104.7,427.2 C99.7,428.2 95.9,428.5 91.6,428.5 C87.3,428.5 83.1,427.9 78.8,427.2 C74.5,426.5 70.1,425.7 65.7,424.5 C61.3,423.3 57.0,421.8 52.6,419.9 C48.2,418.0 43.6,415.8 39.4,413.4 C35.2,411.0 31.1,408.1 27.6,405.5 C24.1,402.9 21.2,400.5 18.4,397.6 C15.5,394.8 12.7,391.7 10.5,388.4 C8.3,385.1 6.6,381.1 5.3,377.9 C4.0,374.7 3.3,372.0 2.7,369.0 C2.1,366.0 1.9,363.2 1.7,360.0 C1.5,356.8 1.5,353.7 1.6,350.0 C1.7,346.3 1.9,342.2 2.2,338.0 C2.6,333.8 3.2,328.8 3.7,325.0 C4.2,321.2 4.5,318.3 5.3,315.0 C6.1,311.7 7.5,307.6 8.6,305.0 C9.7,302.4 10.7,301.6 11.9,299.5 C13.1,297.4 14.2,294.9 16.0,292.5 C17.8,290.1 20.4,287.6 22.5,285.0 C24.6,282.4 27.3,279.6 28.5,277.0 C29.7,274.4 29.1,271.8 29.8,269.1 C30.5,266.5 31.7,263.5 32.5,261.1 C33.3,258.7 33.5,256.7 34.5,254.5 C35.5,252.3 36.4,249.7 38.4,247.8 C40.4,245.9 43.5,244.5 46.4,243.2 C49.3,241.9 53.3,242.0 55.7,239.9 C58.1,237.8 58.8,233.0 61.0,230.6 C63.2,228.2 66.2,226.7 68.9,225.3Z" fill="rgb(192,192,192)" fill-opacity="0.4" filter="url(#sh0)"/><path d="M68.9,225.3 C71.7,224.0 74.6,222.9 77.5,222.5 C80.4,222.1 83.9,222.3 86.2,223.1 C88.5,223.9 89.3,226.3 91.2,227.4 C93.1,228.5 95.7,228.7 97.4,229.9 C99.2,231.2 100.5,233.0 101.7,234.9 C102.9,236.8 103.0,239.7 104.8,241.1 C106.6,242.5 109.8,242.6 112.3,243.6 C114.8,244.6 117.5,245.7 119.8,247.3 C122.1,249.0 124.5,251.4 126.0,253.5 C127.5,255.6 127.7,257.5 128.5,259.8 C129.3,262.1 130.1,264.5 131.0,267.2 C131.9,269.9 132.7,273.2 134.1,275.9 C135.5,278.6 137.9,281.0 139.7,283.4 C141.5,285.8 142.5,287.2 144.7,290.0 C146.8,292.8 150.5,296.7 152.6,300.0 C154.7,303.3 155.7,306.7 157.3,310.0 C158.9,313.3 160.8,316.7 162.1,320.0 C163.4,323.3 164.1,326.7 165.2,330.0 C166.2,333.3 167.5,336.7 168.4,340.0 C169.3,343.3 170.2,346.7 170.7,350.0 C171.2,353.3 171.4,356.7 171.5,360.0 C171.6,363.3 172.0,366.6 171.2,370.0 C170.4,373.4 168.4,376.8 166.5,380.5 C164.6,384.2 162.5,388.4 159.9,392.3 C157.3,396.2 154.4,400.5 150.7,404.2 C147.0,407.9 142.4,411.6 137.6,414.7 C132.8,417.8 127.3,420.5 121.8,422.6 C116.3,424.7 109.7,426.2 104.7,427.2 C99.7,428.2 95.9,428.5 91.6,428.5 C87.3,428.5 83.1,427.9 78.8,427.2 C74.5,426.5 70.1,425.7 65.7,424.5 C61.3,423.3 57.0,421.8 52.6,419.9 C48.2,418.0 43.6,415.8 39.4,413.4 C35.2,411.0 31.1,408.1 27.6,405.5 C24.1,402.9 21.2,400.5 18.4,397.6 C15.5,394.8 12.7,391.7 10.5,388.4 C8.3,385.1 6.6,381.1 5.3,377.9 C4.0,374.7 3.3,372.0 2.7,369.0 C2.1,366.0 1.9,363.2 1.7,360.0 C1.5,356.8 1.5,353.7 1.6,350.0 C1.7,346.3 1.9,342.2 2.2,338.0 C2.6,333.8 3.2,328.8 3.7,325.0 C4.2,321.2 4.5,318.3 5.3,315.0 C6.1,311.7 7.5,307.6 8.6,305.0 C9.7,302.4 10.7,301.6 11.9,299.5 C13.1,297.4 14.2,294.9 16.0,292.5 C17.8,290.1 20.4,287.6 22.5,285.0 C24.6,282.4 27.3,279.6 28.5,277.0 C29.7,274.4 29.1,271.8 29.8,269.1 C30.5,266.5 31.7,263.5 32.5,261.1 C33.3,258.7 33.5,256.7 34.5,254.5 C35.5,252.3 36.4,249.7 38.4,247.8 C40.4,245.9 43.5,244.5 46.4,243.2 C49.3,241.9 53.3,242.0 55.7,239.9 C58.1,237.8 58.8,233.0 61.0,230.6 C63.2,228.2 66.2,226.7 68.9,225.3Z" fill="rgb(192,192,192)" fill-opacity="0.25" filter="url(#sh1)"/><path d="M68.9,225.3 C71.7,224.0 74.6,222.9 77.5,222.5 C80.4,222.1 83.9,222.3 86.2,223.1 C88.5,223.9 89.3,226.3 91.2,227.4 C93.1,228.5 95.7,228.7 97.4,229.9 C99.2,231.2 100.5,233.0 101.7,234.9 C102.9,236.8 103.0,239.7 104.8,241.1 C106.6,242.5 109.8,242.6 112.3,243.6 C114.8,244.6 117.5,245.7 119.8,247.3 C122.1,249.0 124.5,251.4 126.0,253.5 C127.5,255.6 127.7,257.5 128.5,259.8 C129.3,262.1 130.1,264.5 131.0,267.2 C131.9,269.9 132.7,273.2 134.1,275.9 C135.5,278.6 137.9,281.0 139.7,283.4 C141.5,285.8 142.5,287.2 144.7,290.0 C146.8,292.8 150.5,296.7 152.6,300.0 C154.7,303.3 155.7,306.7 157.3,310.0 C158.9,313.3 160.8,316.7 162.1,320.0 C163.4,323.3 164.1,326.7 165.2,330.0 C166.2,333.3 167.5,336.7 168.4,340.0 C169.3,343.3 170.2,346.7 170.7,350.0 C171.2,353.3 171.4,356.7 171.5,360.0 C171.6,363.3 172.0,366.6 171.2,370.0 C170.4,373.4 168.4,376.8 166.5,380.5 C164.6,384.2 162.5,388.4 159.9,392.3 C157.3,396.2 154.4,400.5 150.7,404.2 C147.0,407.9 142.4,411.6 137.6,414.7 C132.8,417.8 127.3,420.5 121.8,422.6 C116.3,424.7 109.7,426.2 104.7,427.2 C99.7,428.2 95.9,428.5 91.6,428.5 C87.3,428.5 83.1,427.9 78.8,427.2 C74.5,426.5 70.1,425.7 65.7,424.5 C61.3,423.3 57.0,421.8 52.6,419.9 C48.2,418.0 43.6,415.8 39.4,413.4 C35.2,411.0 31.1,408.1 27.6,405.5 C24.1,402.9 21.2,400.5 18.4,397.6 C15.5,394.8 12.7,391.7 10.5,388.4 C8.3,385.1 6.6,381.1 5.3,377.9 C4.0,374.7 3.3,372.0 2.7,369.0 C2.1,366.0 1.9,363.2 1.7,360.0 C1.5,356.8 1.5,353.7 1.6,350.0 C1.7,346.3 1.9,342.2 2.2,338.0 C2.6,333.8 3.2,328.8 3.7,325.0 C4.2,321.2 4.5,318.3 5.3,315.0 C6.1,311.7 7.5,307.6 8.6,305.0 C9.7,302.4 10.7,301.6 11.9,299.5 C13.1,297.4 14.2,294.9 16.0,292.5 C17.8,290.1 20.4,287.6 22.5,285.0 C24.6,282.4 27.3,279.6 28.5,277.0 C29.7,274.4 29.1,271.8 29.8,269.1 C30.5,266.5 31.7,263.5 32.5,261.1 C33.3,258.7 33.5,256.7 34.5,254.5 C35.5,252.3 36.4,249.7 38.4,247.8 C40.4,245.9 43.5,244.5 46.4,243.2 C49.3,241.9 53.3,242.0 55.7,239.9 C58.1,237.8 58.8,233.0 61.0,230.6 C63.2,228.2 66.2,226.7 68.9,225.3Z" fill="rgb(192,192,192)" fill-opacity="1.0" filter="url(#sh2)"/></g>
<g clip-path="url(#c1)">
<ellipse cx="86.5" cy="287.1" rx="51.0" ry="69.0" fill="rgb(190,190,190)" opacity="0.2" filter="url(#bu)"/>
<path d="M28.0,268.0 C28.7,266.9 30.5,263.8 32.9,261.5 C35.3,259.2 47.8,248.0 51.9,245.4 C56.0,242.8 71.0,237.1 73.8,236.0 C76.6,234.9 78.1,234.0 79.6,234.0 C81.1,234.0 85.3,234.7 88.4,236.0 C91.5,237.3 106.2,243.9 110.3,246.9 C114.4,249.9 126.9,263.4 129.3,265.9 C131.7,268.4 133.3,271.3 134.0,272.0 C134.7,272.7 138.1,272.6 136.0,272.8 C133.9,273.0 118.4,272.9 112.8,273.8 C107.2,274.7 86.5,281.4 79.6,281.4 C72.7,281.4 48.9,274.7 43.5,273.8 C38.1,272.9 27.6,273.4 26.0,272.8 C24.4,272.2 27.3,269.1 28.0,268.0Z" fill="#6e6e6e" opacity="0.22" filter="url(#bl2)"/>
<path d="M76.7,236.0 C75.3,237.4 75.0,247.8 73.8,249.8 C72.6,251.8 67.6,253.8 65.0,255.7 C62.4,257.6 48.4,266.9 47.5,268.8 C46.6,270.7 54.7,273.3 56.3,274.6 C57.9,275.9 61.3,281.1 63.6,282.0 C65.9,282.9 76.0,283.5 79.6,283.4 C83.2,283.2 97.1,282.0 100.0,280.5 C102.9,279.0 108.9,271.0 108.8,268.8 C108.7,266.6 100.6,260.4 98.6,258.6 C96.6,256.9 89.5,253.6 88.4,251.3 C87.3,249.0 88.9,237.5 87.7,236.0 C86.5,234.5 78.1,234.6 76.7,236.0Z" fill="#bdbdbd"/>
<path d="M28.0,252.0 C28.5,249.8 30.5,247.8 32.9,245.5 C35.3,243.2 47.8,232.0 51.9,229.4 C56.0,226.8 71.0,221.1 73.8,220.0 C76.6,218.9 78.1,218.0 79.6,218.0 C81.1,218.0 85.3,218.7 88.4,220.0 C91.5,221.3 106.2,227.9 110.3,230.9 C114.4,233.9 126.9,247.4 129.3,249.9 C131.7,252.4 133.5,253.8 134.0,256.0 C134.5,258.2 134.5,271.0 134.0,272.0 C133.5,273.0 131.7,268.4 129.3,265.9 C126.9,263.4 114.4,249.9 110.3,246.9 C106.2,243.9 91.5,237.3 88.4,236.0 C85.3,234.7 81.1,234.0 79.6,234.0 C78.1,234.0 76.6,234.9 73.8,236.0 C71.0,237.1 56.0,242.8 51.9,245.4 C47.8,248.0 35.3,259.2 32.9,261.5 C30.5,263.8 28.5,268.9 28.0,268.0 C27.5,267.1 27.5,254.2 28.0,252.0Z" fill="#a6a6a6" opacity="0.6" filter="url(#bl1)"/>
<ellipse cx="81.2" cy="231.2" rx="20.9" ry="8.0" fill="#adadad" opacity="0.85" filter="url(#bl2)"/>
<path d="M78.0,225.2 L84.9,225.2 L86.7,229.6 L76.1,229.6 Z" fill="#c6c6c6" opacity="0.9"/>
<path d="M75.8,231.0 Q81.3,227.4 86.9,231.0 Q81.3,230.6 75.8,231.0 Z" fill="#f2f2f2"/>
<circle cx="71.2" cy="231.2" r="2.1" fill="#6a6a6a" opacity="0.35"/>
<circle cx="90.7" cy="231.2" r="2.1" fill="#6a6a6a" opacity="0.35"/>
<path d="M28.0,268.0 C28.8,266.9 28.9,265.3 32.9,261.5 C36.9,257.7 45.1,249.7 51.9,245.4 C58.7,241.2 69.2,237.9 73.8,236.0 C78.4,234.1 77.2,234.0 79.6,234.0 C82.0,234.0 83.3,233.8 88.4,236.0 C93.5,238.2 103.5,241.9 110.3,246.9 C117.1,251.9 125.4,261.7 129.3,265.9 C133.2,270.1 133.2,271.0 134.0,272.0" fill="none" stroke="#5f5f5f" stroke-width="2.2" stroke-opacity="0.8"/>
<ellipse cx="55.5" cy="243.5" rx="3.5" ry="1.4" fill="#f4f4f4" transform="rotate(-35 55.5 243.5)"/>
<ellipse cx="102.5" cy="243.5" rx="3.5" ry="1.4" fill="#f4f4f4" transform="rotate(35 102.5 243.5)"/>
<path d="M66.4,287.8 C67.5,286.3 78.1,284.4 81.1,284.4 C84.0,284.4 94.5,286.3 95.8,287.8 C97.0,289.2 95.1,297.2 93.7,298.8 C92.2,300.3 83.5,303.1 81.1,303.1 C78.6,303.1 71.0,300.3 69.5,298.8 C68.0,297.2 65.2,289.2 66.4,287.8Z" fill="#a0a0a0" opacity="0.2"/>
<path d="M49.0,307.8 C49.2,307.5 56.7,304.0 57.5,303.6 C58.4,303.2 65.0,299.9 65.4,299.5 C65.8,299.1 66.1,296.4 66.0,296.1 C66.0,295.8 64.4,293.5 64.7,293.4 C65.0,293.2 72.2,292.4 72.6,292.7 C72.9,293.0 72.2,298.9 71.9,299.5 C71.7,300.2 68.4,305.2 67.9,305.7 C67.5,306.1 63.5,308.3 62.8,308.4 C62.1,308.6 54.3,309.1 53.7,309.1 C53.0,309.1 48.8,308.0 49.0,307.8Z" fill="#d0d0d0"/>
<path d="M94.7,292.7 C94.9,292.3 97.7,292.3 98.0,292.7 C98.3,293.1 98.9,298.2 99.2,298.9 C99.6,299.5 102.3,302.6 103.1,302.9 C103.9,303.2 109.9,303.3 111.0,303.6 C112.0,303.9 118.8,307.4 118.8,307.8 C118.8,308.1 111.9,308.5 111.0,308.4 C110.0,308.3 105.3,306.9 104.5,306.4 C103.7,306.0 99.8,302.8 99.2,302.3 C98.6,301.7 95.6,298.8 95.3,298.2 C95.0,297.6 94.5,293.1 94.7,292.7Z" fill="#d0d0d0"/>
<ellipse cx="81.8" cy="320.2" rx="14.9" ry="12.8" fill="#d2d2d2"/>
</g>
<g clip-path="url(#c1)"><path d="M68.9,225.3 C71.7,224.0 74.6,222.9 77.5,222.5 C80.4,222.1 83.9,222.3 86.2,223.1 C88.5,223.9 89.3,226.3 91.2,227.4 C93.1,228.5 95.7,228.7 97.4,229.9 C99.2,231.2 100.5,233.0 101.7,234.9 C102.9,236.8 103.0,239.7 104.8,241.1 C106.6,242.5 109.8,242.6 112.3,243.6 C114.8,244.6 117.5,245.7 119.8,247.3 C122.1,249.0 124.5,251.4 126.0,253.5 C127.5,255.6 127.7,257.5 128.5,259.8 C129.3,262.1 130.1,264.5 131.0,267.2 C131.9,269.9 132.7,273.2 134.1,275.9 C135.5,278.6 137.9,281.0 139.7,283.4 C141.5,285.8 142.5,287.2 144.7,290.0 C146.8,292.8 150.5,296.7 152.6,300.0 C154.7,303.3 155.7,306.7 157.3,310.0 C158.9,313.3 160.8,316.7 162.1,320.0 C163.4,323.3 164.1,326.7 165.2,330.0 C166.2,333.3 167.5,336.7 168.4,340.0 C169.3,343.3 170.2,346.7 170.7,350.0 C171.2,353.3 171.4,356.7 171.5,360.0 C171.6,363.3 172.0,366.6 171.2,370.0 C170.4,373.4 168.4,376.8 166.5,380.5 C164.6,384.2 162.5,388.4 159.9,392.3 C157.3,396.2 154.4,400.5 150.7,404.2 C147.0,407.9 142.4,411.6 137.6,414.7 C132.8,417.8 127.3,420.5 121.8,422.6 C116.3,424.7 109.7,426.2 104.7,427.2 C99.7,428.2 95.9,428.5 91.6,428.5 C87.3,428.5 83.1,427.9 78.8,427.2 C74.5,426.5 70.1,425.7 65.7,424.5 C61.3,423.3 57.0,421.8 52.6,419.9 C48.2,418.0 43.6,415.8 39.4,413.4 C35.2,411.0 31.1,408.1 27.6,405.5 C24.1,402.9 21.2,400.5 18.4,397.6 C15.5,394.8 12.7,391.7 10.5,388.4 C8.3,385.1 6.6,381.1 5.3,377.9 C4.0,374.7 3.3,372.0 2.7,369.0 C2.1,366.0 1.9,363.2 1.7,360.0 C1.5,356.8 1.5,353.7 1.6,350.0 C1.7,346.3 1.9,342.2 2.2,338.0 C2.6,333.8 3.2,328.8 3.7,325.0 C4.2,321.2 4.5,318.3 5.3,315.0 C6.1,311.7 7.5,307.6 8.6,305.0 C9.7,302.4 10.7,301.6 11.9,299.5 C13.1,297.4 14.2,294.9 16.0,292.5 C17.8,290.1 20.4,287.6 22.5,285.0 C24.6,282.4 27.3,279.6 28.5,277.0 C29.7,274.4 29.1,271.8 29.8,269.1 C30.5,266.5 31.7,263.5 32.5,261.1 C33.3,258.7 33.5,256.7 34.5,254.5 C35.5,252.3 36.4,249.7 38.4,247.8 C40.4,245.9 43.5,244.5 46.4,243.2 C49.3,241.9 53.3,242.0 55.7,239.9 C58.1,237.8 58.8,233.0 61.0,230.6 C63.2,228.2 66.2,226.7 68.9,225.3Z" fill="none" stroke="#000" stroke-width="6" stroke-opacity="0.2" filter="url(#be1)"/><path d="M68.9,225.3 C71.7,224.0 74.6,222.9 77.5,222.5 C80.4,222.1 83.9,222.3 86.2,223.1 C88.5,223.9 89.3,226.3 91.2,227.4 C93.1,228.5 95.7,228.7 97.4,229.9 C99.2,231.2 100.5,233.0 101.7,234.9 C102.9,236.8 103.0,239.7 104.8,241.1 C106.6,242.5 109.8,242.6 112.3,243.6 C114.8,244.6 117.5,245.7 119.8,247.3 C122.1,249.0 124.5,251.4 126.0,253.5 C127.5,255.6 127.7,257.5 128.5,259.8 C129.3,262.1 130.1,264.5 131.0,267.2 C131.9,269.9 132.7,273.2 134.1,275.9 C135.5,278.6 137.9,281.0 139.7,283.4 C141.5,285.8 142.5,287.2 144.7,290.0 C146.8,292.8 150.5,296.7 152.6,300.0 C154.7,303.3 155.7,306.7 157.3,310.0 C158.9,313.3 160.8,316.7 162.1,320.0 C163.4,323.3 164.1,326.7 165.2,330.0 C166.2,333.3 167.5,336.7 168.4,340.0 C169.3,343.3 170.2,346.7 170.7,350.0 C171.2,353.3 171.4,356.7 171.5,360.0 C171.6,363.3 172.0,366.6 171.2,370.0 C170.4,373.4 168.4,376.8 166.5,380.5 C164.6,384.2 162.5,388.4 159.9,392.3 C157.3,396.2 154.4,400.5 150.7,404.2 C147.0,407.9 142.4,411.6 137.6,414.7 C132.8,417.8 127.3,420.5 121.8,422.6 C116.3,424.7 109.7,426.2 104.7,427.2 C99.7,428.2 95.9,428.5 91.6,428.5 C87.3,428.5 83.1,427.9 78.8,427.2 C74.5,426.5 70.1,425.7 65.7,424.5 C61.3,423.3 57.0,421.8 52.6,419.9 C48.2,418.0 43.6,415.8 39.4,413.4 C35.2,411.0 31.1,408.1 27.6,405.5 C24.1,402.9 21.2,400.5 18.4,397.6 C15.5,394.8 12.7,391.7 10.5,388.4 C8.3,385.1 6.6,381.1 5.3,377.9 C4.0,374.7 3.3,372.0 2.7,369.0 C2.1,366.0 1.9,363.2 1.7,360.0 C1.5,356.8 1.5,353.7 1.6,350.0 C1.7,346.3 1.9,342.2 2.2,338.0 C2.6,333.8 3.2,328.8 3.7,325.0 C4.2,321.2 4.5,318.3 5.3,315.0 C6.1,311.7 7.5,307.6 8.6,305.0 C9.7,302.4 10.7,301.6 11.9,299.5 C13.1,297.4 14.2,294.9 16.0,292.5 C17.8,290.1 20.4,287.6 22.5,285.0 C24.6,282.4 27.3,279.6 28.5,277.0 C29.7,274.4 29.1,271.8 29.8,269.1 C30.5,266.5 31.7,263.5 32.5,261.1 C33.3,258.7 33.5,256.7 34.5,254.5 C35.5,252.3 36.4,249.7 38.4,247.8 C40.4,245.9 43.5,244.5 46.4,243.2 C49.3,241.9 53.3,242.0 55.7,239.9 C58.1,237.8 58.8,233.0 61.0,230.6 C63.2,228.2 66.2,226.7 68.9,225.3Z" fill="none" stroke="#000" stroke-width="40" stroke-opacity="0.0" filter="url(#be2)"/></g>
<path d="M68.9,225.3 C71.7,224.0 74.6,222.9 77.5,222.5 C80.4,222.1 83.9,222.3 86.2,223.1 C88.5,223.9 89.3,226.3 91.2,227.4 C93.1,228.5 95.7,228.7 97.4,229.9 C99.2,231.2 100.5,233.0 101.7,234.9 C102.9,236.8 103.0,239.7 104.8,241.1 C106.6,242.5 109.8,242.6 112.3,243.6 C114.8,244.6 117.5,245.7 119.8,247.3 C122.1,249.0 124.5,251.4 126.0,253.5 C127.5,255.6 127.7,257.5 128.5,259.8 C129.3,262.1 130.1,264.5 131.0,267.2 C131.9,269.9 132.7,273.2 134.1,275.9 C135.5,278.6 137.9,281.0 139.7,283.4 C141.5,285.8 142.5,287.2 144.7,290.0 C146.8,292.8 150.5,296.7 152.6,300.0 C154.7,303.3 155.7,306.7 157.3,310.0 C158.9,313.3 160.8,316.7 162.1,320.0 C163.4,323.3 164.1,326.7 165.2,330.0 C166.2,333.3 167.5,336.7 168.4,340.0 C169.3,343.3 170.2,346.7 170.7,350.0 C171.2,353.3 171.4,356.7 171.5,360.0 C171.6,363.3 172.0,366.6 171.2,370.0 C170.4,373.4 168.4,376.8 166.5,380.5 C164.6,384.2 162.5,388.4 159.9,392.3 C157.3,396.2 154.4,400.5 150.7,404.2 C147.0,407.9 142.4,411.6 137.6,414.7 C132.8,417.8 127.3,420.5 121.8,422.6 C116.3,424.7 109.7,426.2 104.7,427.2 C99.7,428.2 95.9,428.5 91.6,428.5 C87.3,428.5 83.1,427.9 78.8,427.2 C74.5,426.5 70.1,425.7 65.7,424.5 C61.3,423.3 57.0,421.8 52.6,419.9 C48.2,418.0 43.6,415.8 39.4,413.4 C35.2,411.0 31.1,408.1 27.6,405.5 C24.1,402.9 21.2,400.5 18.4,397.6 C15.5,394.8 12.7,391.7 10.5,388.4 C8.3,385.1 6.6,381.1 5.3,377.9 C4.0,374.7 3.3,372.0 2.7,369.0 C2.1,366.0 1.9,363.2 1.7,360.0 C1.5,356.8 1.5,353.7 1.6,350.0 C1.7,346.3 1.9,342.2 2.2,338.0 C2.6,333.8 3.2,328.8 3.7,325.0 C4.2,321.2 4.5,318.3 5.3,315.0 C6.1,311.7 7.5,307.6 8.6,305.0 C9.7,302.4 10.7,301.6 11.9,299.5 C13.1,297.4 14.2,294.9 16.0,292.5 C17.8,290.1 20.4,287.6 22.5,285.0 C24.6,282.4 27.3,279.6 28.5,277.0 C29.7,274.4 29.1,271.8 29.8,269.1 C30.5,266.5 31.7,263.5 32.5,261.1 C33.3,258.7 33.5,256.7 34.5,254.5 C35.5,252.3 36.4,249.7 38.4,247.8 C40.4,245.9 43.5,244.5 46.4,243.2 C49.3,241.9 53.3,242.0 55.7,239.9 C58.1,237.8 58.8,233.0 61.0,230.6 C63.2,228.2 66.2,226.7 68.9,225.3Z" fill="none" stroke="#555" stroke-width="0.7" stroke-opacity="0.5"/>
<path d="M39.8,261.1 C39.7,261.9 35.4,268.9 34.5,270.4 C33.6,271.9 31.7,275.2 31.2,275.7 C30.7,276.2 29.6,275.9 29.6,275.2 C29.6,274.5 30.8,270.4 31.4,269.1 C32.0,267.8 35.0,262.8 35.8,262.0 C36.6,261.2 39.9,260.3 39.8,261.1Z" fill="#fff" filter="url(#bl1)"/>
<path d="M127.2,261.6 C127.9,262.0 130.4,265.8 131.0,267.2 C131.6,268.6 133.3,275.1 133.4,275.9 C133.5,276.7 132.2,276.0 131.6,275.4 C131.0,274.8 127.9,270.9 127.2,269.7 C126.5,268.5 124.4,264.3 124.4,263.5 C124.4,262.7 126.5,261.2 127.2,261.6Z" fill="#fff" filter="url(#bl1)"/>
<clipPath id="c2"><path d="M324.8,418.7 C327.3,416.9 327.4,414.3 328.5,412.4 C329.6,410.5 329.5,409.1 331.7,407.5 C333.9,405.9 338.9,403.9 341.5,402.5 C344.1,401.1 344.9,399.8 347.4,399.2 C349.9,398.6 353.6,398.6 356.6,399.2 C359.6,399.8 362.8,401.8 365.2,403.0 C367.6,404.2 369.1,404.4 371.2,406.2 C373.2,408.0 376.0,411.7 377.5,413.7 C379.0,415.7 378.1,417.0 380.0,418.0 C381.9,419.0 385.6,418.8 388.7,419.9 C391.8,420.9 395.7,422.4 398.6,424.3 C401.5,426.2 404.7,428.9 406.1,431.1 C407.6,433.3 406.3,435.2 407.3,437.3 C408.3,439.4 410.2,441.1 412.3,443.6 C414.4,446.1 417.3,449.2 419.8,452.3 C422.3,455.4 425.1,459.2 427.3,462.2 C429.5,465.1 431.0,467.0 432.9,470.0 C434.8,473.0 437.1,476.7 438.4,480.0 C439.7,483.3 440.2,486.7 440.9,490.0 C441.5,493.3 441.9,496.7 442.3,500.0 C442.7,503.3 443.2,507.0 443.3,510.0 C443.4,513.0 443.2,515.5 443.1,518.0 C443.0,520.5 442.9,522.2 442.4,525.0 C441.9,527.8 441.0,531.7 439.9,535.0 C438.8,538.3 437.5,541.7 435.9,545.0 C434.3,548.3 433.1,551.6 430.4,555.0 C427.7,558.4 423.4,562.1 419.8,565.2 C416.2,568.3 412.3,571.2 408.5,573.7 C404.7,576.2 400.9,578.5 397.1,580.4 C393.3,582.3 390.2,583.8 385.7,585.1 C381.2,586.4 375.1,587.6 370.0,588.3 C364.9,589.0 360.8,589.4 355.0,589.5 C349.2,589.6 340.6,589.5 335.0,588.9 C329.4,588.3 325.7,587.2 321.2,585.9 C316.7,584.5 312.1,582.8 307.9,580.8 C303.6,578.8 299.6,576.3 295.7,573.6 C291.8,570.9 287.6,567.5 284.4,564.4 C281.1,561.3 278.3,558.4 276.2,555.2 C274.1,552.0 273.0,549.2 271.6,545.0 C270.2,540.8 268.7,535.0 268.0,530.0 C267.3,525.0 267.1,520.0 267.2,515.0 C267.2,510.0 267.6,505.0 268.3,500.0 C269.1,495.0 270.2,489.4 271.7,485.0 C273.2,480.6 275.3,477.0 277.5,473.4 C279.7,469.8 282.4,466.8 284.9,463.5 C287.4,460.2 290.2,456.4 292.4,453.5 C294.6,450.6 296.6,448.8 298.0,446.1 C299.4,443.4 300.0,439.6 300.5,437.3 C301.0,435.0 300.2,434.1 301.1,432.4 C302.0,430.6 304.0,428.4 306.1,426.8 C308.2,425.2 310.5,424.4 313.6,423.0 C316.7,421.6 322.3,420.5 324.8,418.7Z"/></clipPath>
<path d="M324.8,418.7 C327.3,416.9 327.4,414.3 328.5,412.4 C329.6,410.5 329.5,409.1 331.7,407.5 C333.9,405.9 338.9,403.9 341.5,402.5 C344.1,401.1 344.9,399.8 347.4,399.2 C349.9,398.6 353.6,398.6 356.6,399.2 C359.6,399.8 362.8,401.8 365.2,403.0 C367.6,404.2 369.1,404.4 371.2,406.2 C373.2,408.0 376.0,411.7 377.5,413.7 C379.0,415.7 378.1,417.0 380.0,418.0 C381.9,419.0 385.6,418.8 388.7,419.9 C391.8,420.9 395.7,422.4 398.6,424.3 C401.5,426.2 404.7,428.9 406.1,431.1 C407.6,433.3 406.3,435.2 407.3,437.3 C408.3,439.4 410.2,441.1 412.3,443.6 C414.4,446.1 417.3,449.2 419.8,452.3 C422.3,455.4 425.1,459.2 427.3,462.2 C429.5,465.1 431.0,467.0 432.9,470.0 C434.8,473.0 437.1,476.7 438.4,480.0 C439.7,483.3 440.2,486.7 440.9,490.0 C441.5,493.3 441.9,496.7 442.3,500.0 C442.7,503.3 443.2,507.0 443.3,510.0 C443.4,513.0 443.2,515.5 443.1,518.0 C443.0,520.5 442.9,522.2 442.4,525.0 C441.9,527.8 441.0,531.7 439.9,535.0 C438.8,538.3 437.5,541.7 435.9,545.0 C434.3,548.3 433.1,551.6 430.4,555.0 C427.7,558.4 423.4,562.1 419.8,565.2 C416.2,568.3 412.3,571.2 408.5,573.7 C404.7,576.2 400.9,578.5 397.1,580.4 C393.3,582.3 390.2,583.8 385.7,585.1 C381.2,586.4 375.1,587.6 370.0,588.3 C364.9,589.0 360.8,589.4 355.0,589.5 C349.2,589.6 340.6,589.5 335.0,588.9 C329.4,588.3 325.7,587.2 321.2,585.9 C316.7,584.5 312.1,582.8 307.9,580.8 C303.6,578.8 299.6,576.3 295.7,573.6 C291.8,570.9 287.6,567.5 284.4,564.4 C281.1,561.3 278.3,558.4 276.2,555.2 C274.1,552.0 273.0,549.2 271.6,545.0 C270.2,540.8 268.7,535.0 268.0,530.0 C267.3,525.0 267.1,520.0 267.2,515.0 C267.2,510.0 267.6,505.0 268.3,500.0 C269.1,495.0 270.2,489.4 271.7,485.0 C273.2,480.6 275.3,477.0 277.5,473.4 C279.7,469.8 282.4,466.8 284.9,463.5 C287.4,460.2 290.2,456.4 292.4,453.5 C294.6,450.6 296.6,448.8 298.0,446.1 C299.4,443.4 300.0,439.6 300.5,437.3 C301.0,435.0 300.2,434.1 301.1,432.4 C302.0,430.6 304.0,428.4 306.1,426.8 C308.2,425.2 310.5,424.4 313.6,423.0 C316.7,421.6 322.3,420.5 324.8,418.7Z" fill="rgb(70,70,70)"/>
<g clip-path="url(#c2)"><path d="M324.8,418.7 C327.3,416.9 327.4,414.3 328.5,412.4 C329.6,410.5 329.5,409.1 331.7,407.5 C333.9,405.9 338.9,403.9 341.5,402.5 C344.1,401.1 344.9,399.8 347.4,399.2 C349.9,398.6 353.6,398.6 356.6,399.2 C359.6,399.8 362.8,401.8 365.2,403.0 C367.6,404.2 369.1,404.4 371.2,406.2 C373.2,408.0 376.0,411.7 377.5,413.7 C379.0,415.7 378.1,417.0 380.0,418.0 C381.9,419.0 385.6,418.8 388.7,419.9 C391.8,420.9 395.7,422.4 398.6,424.3 C401.5,426.2 404.7,428.9 406.1,431.1 C407.6,433.3 406.3,435.2 407.3,437.3 C408.3,439.4 410.2,441.1 412.3,443.6 C414.4,446.1 417.3,449.2 419.8,452.3 C422.3,455.4 425.1,459.2 427.3,462.2 C429.5,465.1 431.0,467.0 432.9,470.0 C434.8,473.0 437.1,476.7 438.4,480.0 C439.7,483.3 440.2,486.7 440.9,490.0 C441.5,493.3 441.9,496.7 442.3,500.0 C442.7,503.3 443.2,507.0 443.3,510.0 C443.4,513.0 443.2,515.5 443.1,518.0 C443.0,520.5 442.9,522.2 442.4,525.0 C441.9,527.8 441.0,531.7 439.9,535.0 C438.8,538.3 437.5,541.7 435.9,545.0 C434.3,548.3 433.1,551.6 430.4,555.0 C427.7,558.4 423.4,562.1 419.8,565.2 C416.2,568.3 412.3,571.2 408.5,573.7 C404.7,576.2 400.9,578.5 397.1,580.4 C393.3,582.3 390.2,583.8 385.7,585.1 C381.2,586.4 375.1,587.6 370.0,588.3 C364.9,589.0 360.8,589.4 355.0,589.5 C349.2,589.6 340.6,589.5 335.0,588.9 C329.4,588.3 325.7,587.2 321.2,585.9 C316.7,584.5 312.1,582.8 307.9,580.8 C303.6,578.8 299.6,576.3 295.7,573.6 C291.8,570.9 287.6,567.5 284.4,564.4 C281.1,561.3 278.3,558.4 276.2,555.2 C274.1,552.0 273.0,549.2 271.6,545.0 C270.2,540.8 268.7,535.0 268.0,530.0 C267.3,525.0 267.1,520.0 267.2,515.0 C267.2,510.0 267.6,505.0 268.3,500.0 C269.1,495.0 270.2,489.4 271.7,485.0 C273.2,480.6 275.3,477.0 277.5,473.4 C279.7,469.8 282.4,466.8 284.9,463.5 C287.4,460.2 290.2,456.4 292.4,453.5 C294.6,450.6 296.6,448.8 298.0,446.1 C299.4,443.4 300.0,439.6 300.5,437.3 C301.0,435.0 300.2,434.1 301.1,432.4 C302.0,430.6 304.0,428.4 306.1,426.8 C308.2,425.2 310.5,424.4 313.6,423.0 C316.7,421.6 322.3,420.5 324.8,418.7Z" fill="rgb(192,192,192)" fill-opacity="0.4" filter="url(#sh0)"/><path d="M324.8,418.7 C327.3,416.9 327.4,414.3 328.5,412.4 C329.6,410.5 329.5,409.1 331.7,407.5 C333.9,405.9 338.9,403.9 341.5,402.5 C344.1,401.1 344.9,399.8 347.4,399.2 C349.9,398.6 353.6,398.6 356.6,399.2 C359.6,399.8 362.8,401.8 365.2,403.0 C367.6,404.2 369.1,404.4 371.2,406.2 C373.2,408.0 376.0,411.7 377.5,413.7 C379.0,415.7 378.1,417.0 380.0,418.0 C381.9,419.0 385.6,418.8 388.7,419.9 C391.8,420.9 395.7,422.4 398.6,424.3 C401.5,426.2 404.7,428.9 406.1,431.1 C407.6,433.3 406.3,435.2 407.3,437.3 C408.3,439.4 410.2,441.1 412.3,443.6 C414.4,446.1 417.3,449.2 419.8,452.3 C422.3,455.4 425.1,459.2 427.3,462.2 C429.5,465.1 431.0,467.0 432.9,470.0 C434.8,473.0 437.1,476.7 438.4,480.0 C439.7,483.3 440.2,486.7 440.9,490.0 C441.5,493.3 441.9,496.7 442.3,500.0 C442.7,503.3 443.2,507.0 443.3,510.0 C443.4,513.0 443.2,515.5 443.1,518.0 C443.0,520.5 442.9,522.2 442.4,525.0 C441.9,527.8 441.0,531.7 439.9,535.0 C438.8,538.3 437.5,541.7 435.9,545.0 C434.3,548.3 433.1,551.6 430.4,555.0 C427.7,558.4 423.4,562.1 419.8,565.2 C416.2,568.3 412.3,571.2 408.5,573.7 C404.7,576.2 400.9,578.5 397.1,580.4 C393.3,582.3 390.2,583.8 385.7,585.1 C381.2,586.4 375.1,587.6 370.0,588.3 C364.9,589.0 360.8,589.4 355.0,589.5 C349.2,589.6 340.6,589.5 335.0,588.9 C329.4,588.3 325.7,587.2 321.2,585.9 C316.7,584.5 312.1,582.8 307.9,580.8 C303.6,578.8 299.6,576.3 295.7,573.6 C291.8,570.9 287.6,567.5 284.4,564.4 C281.1,561.3 278.3,558.4 276.2,555.2 C274.1,552.0 273.0,549.2 271.6,545.0 C270.2,540.8 268.7,535.0 268.0,530.0 C267.3,525.0 267.1,520.0 267.2,515.0 C267.2,510.0 267.6,505.0 268.3,500.0 C269.1,495.0 270.2,489.4 271.7,485.0 C273.2,480.6 275.3,477.0 277.5,473.4 C279.7,469.8 282.4,466.8 284.9,463.5 C287.4,460.2 290.2,456.4 292.4,453.5 C294.6,450.6 296.6,448.8 298.0,446.1 C299.4,443.4 300.0,439.6 300.5,437.3 C301.0,435.0 300.2,434.1 301.1,432.4 C302.0,430.6 304.0,428.4 306.1,426.8 C308.2,425.2 310.5,424.4 313.6,423.0 C316.7,421.6 322.3,420.5 324.8,418.7Z" fill="rgb(192,192,192)" fill-opacity="0.25" filter="url(#sh1)"/><path d="M324.8,418.7 C327.3,416.9 327.4,414.3 328.5,412.4 C329.6,410.5 329.5,409.1 331.7,407.5 C333.9,405.9 338.9,403.9 341.5,402.5 C344.1,401.1 344.9,399.8 347.4,399.2 C349.9,398.6 353.6,398.6 356.6,399.2 C359.6,399.8 362.8,401.8 365.2,403.0 C367.6,404.2 369.1,404.4 371.2,406.2 C373.2,408.0 376.0,411.7 377.5,413.7 C379.0,415.7 378.1,417.0 380.0,418.0 C381.9,419.0 385.6,418.8 388.7,419.9 C391.8,420.9 395.7,422.4 398.6,424.3 C401.5,426.2 404.7,428.9 406.1,431.1 C407.6,433.3 406.3,435.2 407.3,437.3 C408.3,439.4 410.2,441.1 412.3,443.6 C414.4,446.1 417.3,449.2 419.8,452.3 C422.3,455.4 425.1,459.2 427.3,462.2 C429.5,465.1 431.0,467.0 432.9,470.0 C434.8,473.0 437.1,476.7 438.4,480.0 C439.7,483.3 440.2,486.7 440.9,490.0 C441.5,493.3 441.9,496.7 442.3,500.0 C442.7,503.3 443.2,507.0 443.3,510.0 C443.4,513.0 443.2,515.5 443.1,518.0 C443.0,520.5 442.9,522.2 442.4,525.0 C441.9,527.8 441.0,531.7 439.9,535.0 C438.8,538.3 437.5,541.7 435.9,545.0 C434.3,548.3 433.1,551.6 430.4,555.0 C427.7,558.4 423.4,562.1 419.8,565.2 C416.2,568.3 412.3,571.2 408.5,573.7 C404.7,576.2 400.9,578.5 397.1,580.4 C393.3,582.3 390.2,583.8 385.7,585.1 C381.2,586.4 375.1,587.6 370.0,588.3 C364.9,589.0 360.8,589.4 355.0,589.5 C349.2,589.6 340.6,589.5 335.0,588.9 C329.4,588.3 325.7,587.2 321.2,585.9 C316.7,584.5 312.1,582.8 307.9,580.8 C303.6,578.8 299.6,576.3 295.7,573.6 C291.8,570.9 287.6,567.5 284.4,564.4 C281.1,561.3 278.3,558.4 276.2,555.2 C274.1,552.0 273.0,549.2 271.6,545.0 C270.2,540.8 268.7,535.0 268.0,530.0 C267.3,525.0 267.1,520.0 267.2,515.0 C267.2,510.0 267.6,505.0 268.3,500.0 C269.1,495.0 270.2,489.4 271.7,485.0 C273.2,480.6 275.3,477.0 277.5,473.4 C279.7,469.8 282.4,466.8 284.9,463.5 C287.4,460.2 290.2,456.4 292.4,453.5 C294.6,450.6 296.6,448.8 298.0,446.1 C299.4,443.4 300.0,439.6 300.5,437.3 C301.0,435.0 300.2,434.1 301.1,432.4 C302.0,430.6 304.0,428.4 306.1,426.8 C308.2,425.2 310.5,424.4 313.6,423.0 C316.7,421.6 322.3,420.5 324.8,418.7Z" fill="rgb(192,192,192)" fill-opacity="1.0" filter="url(#sh2)"/></g>
<g clip-path="url(#c2)">
<ellipse cx="355.2" cy="463.6" rx="52.8" ry="54.3" fill="rgb(190,190,190)" opacity="0.2" filter="url(#bu)"/>
<path d="M298.0,440.0 C298.9,438.5 302.8,434.0 305.0,432.7 C307.2,431.4 315.7,428.2 319.6,426.9 C323.5,425.6 340.0,420.3 344.4,419.6 C348.8,418.9 359.6,419.0 363.4,419.6 C367.2,420.2 378.9,424.2 382.4,425.4 C385.9,426.6 395.8,429.8 398.4,431.3 C401.0,432.8 406.8,438.6 408.0,440.0 C409.2,441.4 412.0,444.9 410.0,445.5 C408.0,446.1 394.5,445.6 387.8,446.5 C381.1,447.4 350.1,454.6 343.0,454.8 C335.9,455.0 321.8,449.4 317.1,448.7 C312.4,448.0 297.9,448.6 296.0,447.7 C294.1,446.8 297.1,441.5 298.0,440.0Z" fill="#6e6e6e" opacity="0.22" filter="url(#bl2)"/>
<path d="M345.9,418.1 C344.1,419.3 344.9,428.9 343.7,430.5 C342.5,432.1 336.5,432.9 334.2,434.2 C331.9,435.5 321.7,442.1 321.1,443.7 C320.5,445.3 326.2,449.0 328.4,450.3 C330.6,451.6 340.1,456.3 343.0,456.8 C345.9,457.3 354.4,456.0 357.6,455.4 C360.8,454.8 372.5,451.7 375.1,450.3 C377.7,448.9 383.9,443.1 383.8,441.5 C383.7,439.9 375.6,435.5 373.6,434.2 C371.6,432.9 364.6,430.0 363.4,428.4 C362.2,426.8 363.6,419.1 361.9,418.1 C360.1,417.1 347.7,416.9 345.9,418.1Z" fill="#bdbdbd"/>
<path d="M298.0,424.0 C298.7,421.7 302.8,418.0 305.0,416.7 C307.2,415.4 315.7,412.2 319.6,410.9 C323.5,409.6 340.0,404.3 344.4,403.6 C348.8,402.9 359.6,403.0 363.4,403.6 C367.2,404.2 378.9,408.2 382.4,409.4 C385.9,410.6 395.8,413.8 398.4,415.3 C401.0,416.8 407.0,421.5 408.0,424.0 C409.0,426.5 409.0,439.3 408.0,440.0 C407.0,440.7 401.0,432.8 398.4,431.3 C395.8,429.8 385.9,426.6 382.4,425.4 C378.9,424.2 367.2,420.2 363.4,419.6 C359.6,419.0 348.8,418.9 344.4,419.6 C340.0,420.3 323.5,425.6 319.6,426.9 C315.7,428.2 307.2,431.4 305.0,432.7 C302.8,434.0 298.7,440.9 298.0,440.0 C297.3,439.1 297.3,426.3 298.0,424.0Z" fill="#a6a6a6" opacity="0.6" filter="url(#bl1)"/>
<ellipse cx="353.4" cy="409.6" rx="20.9" ry="9.5" fill="#adadad" opacity="0.85" filter="url(#bl2)"/>
<path d="M350.3,402.5 L357.2,402.5 L359.0,407.8 L348.4,407.8 Z" fill="#c6c6c6" opacity="0.9"/>
<path d="M348.1,409.5 Q353.6,405.1 359.1,409.5 Q353.6,408.9 348.1,409.5 Z" fill="#f2f2f2"/>
<circle cx="343.5" cy="409.6" r="2.5" fill="#6a6a6a" opacity="0.35"/>
<circle cx="362.9" cy="409.6" r="2.5" fill="#6a6a6a" opacity="0.35"/>
<path d="M298.0,440.0 C299.2,438.8 301.4,434.9 305.0,432.7 C308.6,430.5 313.0,429.1 319.6,426.9 C326.2,424.7 337.1,420.8 344.4,419.6 C351.7,418.4 357.1,418.6 363.4,419.6 C369.7,420.6 376.6,423.4 382.4,425.4 C388.2,427.3 394.1,428.9 398.4,431.3 C402.7,433.7 406.4,438.6 408.0,440.0" fill="none" stroke="#5f5f5f" stroke-width="2.2" stroke-opacity="0.8"/>
<ellipse cx="334" cy="421.2" rx="7.5" ry="1.4" fill="#f4f4f4" transform="rotate(-17 334 421.2)"/>
<ellipse cx="371.8" cy="420.8" rx="7.5" ry="1.4" fill="#f4f4f4" transform="rotate(14 371.8 420.8)"/>
<path d="M338.3,460.1 C339.4,458.9 350.0,457.3 353.0,457.3 C355.9,457.3 366.4,458.9 367.7,460.1 C368.9,461.3 367.0,468.1 365.6,469.4 C364.1,470.7 355.4,473.1 353.0,473.1 C350.5,473.1 342.9,470.7 341.4,469.4 C339.9,468.1 337.1,461.3 338.3,460.1Z" fill="#a0a0a0" opacity="0.2"/>
<path d="M320.9,477.0 C321.1,476.8 328.6,473.8 329.4,473.5 C330.3,473.1 336.9,470.3 337.3,470.0 C337.7,469.7 338.0,467.4 337.9,467.1 C337.9,466.9 336.3,465.0 336.6,464.8 C336.9,464.7 344.1,464.0 344.5,464.2 C344.8,464.5 344.1,469.5 343.8,470.0 C343.6,470.6 340.3,474.8 339.8,475.2 C339.4,475.6 335.4,477.4 334.7,477.5 C334.0,477.7 326.2,478.1 325.6,478.1 C324.9,478.1 320.7,477.2 320.9,477.0Z" fill="#d0d0d0"/>
<path d="M366.6,464.2 C366.8,463.9 369.6,463.9 369.9,464.2 C370.2,464.6 370.8,468.9 371.1,469.5 C371.5,470.0 374.2,472.6 375.0,472.9 C375.8,473.2 381.8,473.2 382.9,473.5 C383.9,473.7 390.7,476.7 390.7,477.0 C390.7,477.3 383.8,477.6 382.9,477.5 C381.9,477.5 377.2,476.2 376.4,475.9 C375.6,475.5 371.7,472.8 371.1,472.3 C370.5,471.9 367.5,469.4 367.2,468.9 C366.9,468.4 366.4,464.6 366.6,464.2Z" fill="#d0d0d0"/>
<ellipse cx="353.7" cy="487.5" rx="14.9" ry="11.0" fill="#d2d2d2"/>
</g>
<g clip-path="url(#c2)"><path d="M324.8,418.7 C327.3,416.9 327.4,414.3 328.5,412.4 C329.6,410.5 329.5,409.1 331.7,407.5 C333.9,405.9 338.9,403.9 341.5,402.5 C344.1,401.1 344.9,399.8 347.4,399.2 C349.9,398.6 353.6,398.6 356.6,399.2 C359.6,399.8 362.8,401.8 365.2,403.0 C367.6,404.2 369.1,404.4 371.2,406.2 C373.2,408.0 376.0,411.7 377.5,413.7 C379.0,415.7 378.1,417.0 380.0,418.0 C381.9,419.0 385.6,418.8 388.7,419.9 C391.8,420.9 395.7,422.4 398.6,424.3 C401.5,426.2 404.7,428.9 406.1,431.1 C407.6,433.3 406.3,435.2 407.3,437.3 C408.3,439.4 410.2,441.1 412.3,443.6 C414.4,446.1 417.3,449.2 419.8,452.3 C422.3,455.4 425.1,459.2 427.3,462.2 C429.5,465.1 431.0,467.0 432.9,470.0 C434.8,473.0 437.1,476.7 438.4,480.0 C439.7,483.3 440.2,486.7 440.9,490.0 C441.5,493.3 441.9,496.7 442.3,500.0 C442.7,503.3 443.2,507.0 443.3,510.0 C443.4,513.0 443.2,515.5 443.1,518.0 C443.0,520.5 442.9,522.2 442.4,525.0 C441.9,527.8 441.0,531.7 439.9,535.0 C438.8,538.3 437.5,541.7 435.9,545.0 C434.3,548.3 433.1,551.6 430.4,555.0 C427.7,558.4 423.4,562.1 419.8,565.2 C416.2,568.3 412.3,571.2 408.5,573.7 C404.7,576.2 400.9,578.5 397.1,580.4 C393.3,582.3 390.2,583.8 385.7,585.1 C381.2,586.4 375.1,587.6 370.0,588.3 C364.9,589.0 360.8,589.4 355.0,589.5 C349.2,589.6 340.6,589.5 335.0,588.9 C329.4,588.3 325.7,587.2 321.2,585.9 C316.7,584.5 312.1,582.8 307.9,580.8 C303.6,578.8 299.6,576.3 295.7,573.6 C291.8,570.9 287.6,567.5 284.4,564.4 C281.1,561.3 278.3,558.4 276.2,555.2 C274.1,552.0 273.0,549.2 271.6,545.0 C270.2,540.8 268.7,535.0 268.0,530.0 C267.3,525.0 267.1,520.0 267.2,515.0 C267.2,510.0 267.6,505.0 268.3,500.0 C269.1,495.0 270.2,489.4 271.7,485.0 C273.2,480.6 275.3,477.0 277.5,473.4 C279.7,469.8 282.4,466.8 284.9,463.5 C287.4,460.2 290.2,456.4 292.4,453.5 C294.6,450.6 296.6,448.8 298.0,446.1 C299.4,443.4 300.0,439.6 300.5,437.3 C301.0,435.0 300.2,434.1 301.1,432.4 C302.0,430.6 304.0,428.4 306.1,426.8 C308.2,425.2 310.5,424.4 313.6,423.0 C316.7,421.6 322.3,420.5 324.8,418.7Z" fill="none" stroke="#000" stroke-width="6" stroke-opacity="0.2" filter="url(#be1)"/><path d="M324.8,418.7 C327.3,416.9 327.4,414.3 328.5,412.4 C329.6,410.5 329.5,409.1 331.7,407.5 C333.9,405.9 338.9,403.9 341.5,402.5 C344.1,401.1 344.9,399.8 347.4,399.2 C349.9,398.6 353.6,398.6 356.6,399.2 C359.6,399.8 362.8,401.8 365.2,403.0 C367.6,404.2 369.1,404.4 371.2,406.2 C373.2,408.0 376.0,411.7 377.5,413.7 C379.0,415.7 378.1,417.0 380.0,418.0 C381.9,419.0 385.6,418.8 388.7,419.9 C391.8,420.9 395.7,422.4 398.6,424.3 C401.5,426.2 404.7,428.9 406.1,431.1 C407.6,433.3 406.3,435.2 407.3,437.3 C408.3,439.4 410.2,441.1 412.3,443.6 C414.4,446.1 417.3,449.2 419.8,452.3 C422.3,455.4 425.1,459.2 427.3,462.2 C429.5,465.1 431.0,467.0 432.9,470.0 C434.8,473.0 437.1,476.7 438.4,480.0 C439.7,483.3 440.2,486.7 440.9,490.0 C441.5,493.3 441.9,496.7 442.3,500.0 C442.7,503.3 443.2,507.0 443.3,510.0 C443.4,513.0 443.2,515.5 443.1,518.0 C443.0,520.5 442.9,522.2 442.4,525.0 C441.9,527.8 441.0,531.7 439.9,535.0 C438.8,538.3 437.5,541.7 435.9,545.0 C434.3,548.3 433.1,551.6 430.4,555.0 C427.7,558.4 423.4,562.1 419.8,565.2 C416.2,568.3 412.3,571.2 408.5,573.7 C404.7,576.2 400.9,578.5 397.1,580.4 C393.3,582.3 390.2,583.8 385.7,585.1 C381.2,586.4 375.1,587.6 370.0,588.3 C364.9,589.0 360.8,589.4 355.0,589.5 C349.2,589.6 340.6,589.5 335.0,588.9 C329.4,588.3 325.7,587.2 321.2,585.9 C316.7,584.5 312.1,582.8 307.9,580.8 C303.6,578.8 299.6,576.3 295.7,573.6 C291.8,570.9 287.6,567.5 284.4,564.4 C281.1,561.3 278.3,558.4 276.2,555.2 C274.1,552.0 273.0,549.2 271.6,545.0 C270.2,540.8 268.7,535.0 268.0,530.0 C267.3,525.0 267.1,520.0 267.2,515.0 C267.2,510.0 267.6,505.0 268.3,500.0 C269.1,495.0 270.2,489.4 271.7,485.0 C273.2,480.6 275.3,477.0 277.5,473.4 C279.7,469.8 282.4,466.8 284.9,463.5 C287.4,460.2 290.2,456.4 292.4,453.5 C294.6,450.6 296.6,448.8 298.0,446.1 C299.4,443.4 300.0,439.6 300.5,437.3 C301.0,435.0 300.2,434.1 301.1,432.4 C302.0,430.6 304.0,428.4 306.1,426.8 C308.2,425.2 310.5,424.4 313.6,423.0 C316.7,421.6 322.3,420.5 324.8,418.7Z" fill="none" stroke="#000" stroke-width="40" stroke-opacity="0.0" filter="url(#be2)"/></g>
<path d="M324.8,418.7 C327.3,416.9 327.4,414.3 328.5,412.4 C329.6,410.5 329.5,409.1 331.7,407.5 C333.9,405.9 338.9,403.9 341.5,402.5 C344.1,401.1 344.9,399.8 347.4,399.2 C349.9,398.6 353.6,398.6 356.6,399.2 C359.6,399.8 362.8,401.8 365.2,403.0 C367.6,404.2 369.1,404.4 371.2,406.2 C373.2,408.0 376.0,411.7 377.5,413.7 C379.0,415.7 378.1,417.0 380.0,418.0 C381.9,419.0 385.6,418.8 388.7,419.9 C391.8,420.9 395.7,422.4 398.6,424.3 C401.5,426.2 404.7,428.9 406.1,431.1 C407.6,433.3 406.3,435.2 407.3,437.3 C408.3,439.4 410.2,441.1 412.3,443.6 C414.4,446.1 417.3,449.2 419.8,452.3 C422.3,455.4 425.1,459.2 427.3,462.2 C429.5,465.1 431.0,467.0 432.9,470.0 C434.8,473.0 437.1,476.7 438.4,480.0 C439.7,483.3 440.2,486.7 440.9,490.0 C441.5,493.3 441.9,496.7 442.3,500.0 C442.7,503.3 443.2,507.0 443.3,510.0 C443.4,513.0 443.2,515.5 443.1,518.0 C443.0,520.5 442.9,522.2 442.4,525.0 C441.9,527.8 441.0,531.7 439.9,535.0 C438.8,538.3 437.5,541.7 435.9,545.0 C434.3,548.3 433.1,551.6 430.4,555.0 C427.7,558.4 423.4,562.1 419.8,565.2 C416.2,568.3 412.3,571.2 408.5,573.7 C404.7,576.2 400.9,578.5 397.1,580.4 C393.3,582.3 390.2,583.8 385.7,585.1 C381.2,586.4 375.1,587.6 370.0,588.3 C364.9,589.0 360.8,589.4 355.0,589.5 C349.2,589.6 340.6,589.5 335.0,588.9 C329.4,588.3 325.7,587.2 321.2,585.9 C316.7,584.5 312.1,582.8 307.9,580.8 C303.6,578.8 299.6,576.3 295.7,573.6 C291.8,570.9 287.6,567.5 284.4,564.4 C281.1,561.3 278.3,558.4 276.2,555.2 C274.1,552.0 273.0,549.2 271.6,545.0 C270.2,540.8 268.7,535.0 268.0,530.0 C267.3,525.0 267.1,520.0 267.2,515.0 C267.2,510.0 267.6,505.0 268.3,500.0 C269.1,495.0 270.2,489.4 271.7,485.0 C273.2,480.6 275.3,477.0 277.5,473.4 C279.7,469.8 282.4,466.8 284.9,463.5 C287.4,460.2 290.2,456.4 292.4,453.5 C294.6,450.6 296.6,448.8 298.0,446.1 C299.4,443.4 300.0,439.6 300.5,437.3 C301.0,435.0 300.2,434.1 301.1,432.4 C302.0,430.6 304.0,428.4 306.1,426.8 C308.2,425.2 310.5,424.4 313.6,423.0 C316.7,421.6 322.3,420.5 324.8,418.7Z" fill="none" stroke="#555" stroke-width="0.7" stroke-opacity="0.5"/>
<clipPath id="c3"><path d="M557.7,384.6 C559.7,383.6 562.2,383.7 564.3,383.3 C566.4,382.9 568.4,382.1 570.4,382.5 C572.4,382.9 574.2,384.7 576.3,386.0 C578.4,387.3 581.1,388.5 583.2,390.1 C585.3,391.8 587.6,394.2 589.0,395.9 C590.4,397.6 589.5,399.2 591.3,400.5 C593.0,401.8 596.8,402.2 599.5,403.4 C602.2,404.6 605.3,405.9 607.6,407.5 C609.9,409.1 612.0,411.4 613.4,413.3 C614.8,415.2 615.1,417.4 615.7,419.1 C616.3,420.9 616.1,421.9 616.9,423.8 C617.7,425.7 619.0,428.0 620.4,430.7 C621.8,433.4 623.7,436.8 625.0,440.0 C626.3,443.2 627.1,446.7 628.2,450.0 C629.4,453.3 630.8,456.7 631.9,460.0 C633.0,463.3 633.9,466.7 634.6,470.0 C635.4,473.3 635.8,476.7 636.4,480.0 C637.0,483.3 637.6,486.7 638.3,490.0 C639.0,493.3 639.7,496.7 640.4,500.0 C641.1,503.3 641.8,506.7 642.3,510.0 C642.8,513.3 643.4,516.7 643.7,520.0 C644.0,523.3 644.4,526.7 644.2,530.0 C644.0,533.3 643.3,536.7 642.7,540.0 C642.1,543.3 641.8,546.7 640.8,550.0 C639.8,553.3 638.5,556.7 636.8,560.0 C635.1,563.3 633.1,566.7 630.8,570.0 C628.5,573.3 626.2,576.7 622.9,580.0 C619.6,583.3 614.5,587.3 610.9,589.6 C607.2,591.9 604.5,592.5 601.0,593.8 C597.5,595.1 593.8,596.5 590.0,597.6 C586.2,598.7 581.8,599.6 578.0,600.2 C574.2,600.8 570.7,601.1 567.0,601.0 C563.3,600.9 559.7,600.3 556.0,599.4 C552.3,598.5 548.5,597.1 545.0,595.6 C541.5,594.1 538.1,592.1 535.0,590.2 C531.9,588.3 529.6,586.7 526.1,584.2 C522.6,581.8 517.8,578.5 514.3,575.5 C510.8,572.5 507.7,569.4 505.1,566.3 C502.5,563.2 500.4,560.1 498.5,557.1 C496.6,554.1 494.6,550.9 493.5,548.0 C492.4,545.1 492.1,543.0 491.8,540.0 C491.5,537.0 491.5,533.3 491.5,530.0 C491.5,526.7 491.6,523.3 491.8,520.0 C492.0,516.7 492.2,513.3 492.6,510.0 C493.0,506.7 493.8,503.3 494.3,500.0 C494.9,496.7 495.3,493.3 495.9,490.0 C496.4,486.7 497.1,483.3 497.6,480.0 C498.2,476.7 498.5,473.3 499.2,470.0 C499.9,466.7 500.6,463.8 501.7,460.0 C502.8,456.2 504.5,450.7 505.9,447.0 C507.3,443.3 508.6,440.8 509.9,437.7 C511.2,434.6 512.8,430.8 513.9,428.4 C515.0,426.0 516.0,424.9 516.5,423.1 C517.0,421.3 516.5,419.8 517.2,417.8 C517.9,415.8 519.1,413.2 520.5,411.2 C521.9,409.2 523.6,407.2 525.8,405.9 C528.0,404.6 531.4,403.9 533.8,403.2 C536.2,402.5 539.0,403.0 540.4,401.9 C541.8,400.8 541.5,398.3 542.4,396.6 C543.3,394.9 544.0,393.1 545.7,391.9 C547.4,390.7 550.4,390.5 552.4,389.3 C554.4,388.1 555.7,385.6 557.7,384.6Z"/></clipPath>
<path d="M557.7,384.6 C559.7,383.6 562.2,383.7 564.3,383.3 C566.4,382.9 568.4,382.1 570.4,382.5 C572.4,382.9 574.2,384.7 576.3,386.0 C578.4,387.3 581.1,388.5 583.2,390.1 C585.3,391.8 587.6,394.2 589.0,395.9 C590.4,397.6 589.5,399.2 591.3,400.5 C593.0,401.8 596.8,402.2 599.5,403.4 C602.2,404.6 605.3,405.9 607.6,407.5 C609.9,409.1 612.0,411.4 613.4,413.3 C614.8,415.2 615.1,417.4 615.7,419.1 C616.3,420.9 616.1,421.9 616.9,423.8 C617.7,425.7 619.0,428.0 620.4,430.7 C621.8,433.4 623.7,436.8 625.0,440.0 C626.3,443.2 627.1,446.7 628.2,450.0 C629.4,453.3 630.8,456.7 631.9,460.0 C633.0,463.3 633.9,466.7 634.6,470.0 C635.4,473.3 635.8,476.7 636.4,480.0 C637.0,483.3 637.6,486.7 638.3,490.0 C639.0,493.3 639.7,496.7 640.4,500.0 C641.1,503.3 641.8,506.7 642.3,510.0 C642.8,513.3 643.4,516.7 643.7,520.0 C644.0,523.3 644.4,526.7 644.2,530.0 C644.0,533.3 643.3,536.7 642.7,540.0 C642.1,543.3 641.8,546.7 640.8,550.0 C639.8,553.3 638.5,556.7 636.8,560.0 C635.1,563.3 633.1,566.7 630.8,570.0 C628.5,573.3 626.2,576.7 622.9,580.0 C619.6,583.3 614.5,587.3 610.9,589.6 C607.2,591.9 604.5,592.5 601.0,593.8 C597.5,595.1 593.8,596.5 590.0,597.6 C586.2,598.7 581.8,599.6 578.0,600.2 C574.2,600.8 570.7,601.1 567.0,601.0 C563.3,600.9 559.7,600.3 556.0,599.4 C552.3,598.5 548.5,597.1 545.0,595.6 C541.5,594.1 538.1,592.1 535.0,590.2 C531.9,588.3 529.6,586.7 526.1,584.2 C522.6,581.8 517.8,578.5 514.3,575.5 C510.8,572.5 507.7,569.4 505.1,566.3 C502.5,563.2 500.4,560.1 498.5,557.1 C496.6,554.1 494.6,550.9 493.5,548.0 C492.4,545.1 492.1,543.0 491.8,540.0 C491.5,537.0 491.5,533.3 491.5,530.0 C491.5,526.7 491.6,523.3 491.8,520.0 C492.0,516.7 492.2,513.3 492.6,510.0 C493.0,506.7 493.8,503.3 494.3,500.0 C494.9,496.7 495.3,493.3 495.9,490.0 C496.4,486.7 497.1,483.3 497.6,480.0 C498.2,476.7 498.5,473.3 499.2,470.0 C499.9,466.7 500.6,463.8 501.7,460.0 C502.8,456.2 504.5,450.7 505.9,447.0 C507.3,443.3 508.6,440.8 509.9,437.7 C511.2,434.6 512.8,430.8 513.9,428.4 C515.0,426.0 516.0,424.9 516.5,423.1 C517.0,421.3 516.5,419.8 517.2,417.8 C517.9,415.8 519.1,413.2 520.5,411.2 C521.9,409.2 523.6,407.2 525.8,405.9 C528.0,404.6 531.4,403.9 533.8,403.2 C536.2,402.5 539.0,403.0 540.4,401.9 C541.8,400.8 541.5,398.3 542.4,396.6 C543.3,394.9 544.0,393.1 545.7,391.9 C547.4,390.7 550.4,390.5 552.4,389.3 C554.4,388.1 555.7,385.6 557.7,384.6Z" fill="rgb(70,70,70)"/>
<g clip-path="url(#c3)"><path d="M557.7,384.6 C559.7,383.6 562.2,383.7 564.3,383.3 C566.4,382.9 568.4,382.1 570.4,382.5 C572.4,382.9 574.2,384.7 576.3,386.0 C578.4,387.3 581.1,388.5 583.2,390.1 C585.3,391.8 587.6,394.2 589.0,395.9 C590.4,397.6 589.5,399.2 591.3,400.5 C593.0,401.8 596.8,402.2 599.5,403.4 C602.2,404.6 605.3,405.9 607.6,407.5 C609.9,409.1 612.0,411.4 613.4,413.3 C614.8,415.2 615.1,417.4 615.7,419.1 C616.3,420.9 616.1,421.9 616.9,423.8 C617.7,425.7 619.0,428.0 620.4,430.7 C621.8,433.4 623.7,436.8 625.0,440.0 C626.3,443.2 627.1,446.7 628.2,450.0 C629.4,453.3 630.8,456.7 631.9,460.0 C633.0,463.3 633.9,466.7 634.6,470.0 C635.4,473.3 635.8,476.7 636.4,480.0 C637.0,483.3 637.6,486.7 638.3,490.0 C639.0,493.3 639.7,496.7 640.4,500.0 C641.1,503.3 641.8,506.7 642.3,510.0 C642.8,513.3 643.4,516.7 643.7,520.0 C644.0,523.3 644.4,526.7 644.2,530.0 C644.0,533.3 643.3,536.7 642.7,540.0 C642.1,543.3 641.8,546.7 640.8,550.0 C639.8,553.3 638.5,556.7 636.8,560.0 C635.1,563.3 633.1,566.7 630.8,570.0 C628.5,573.3 626.2,576.7 622.9,580.0 C619.6,583.3 614.5,587.3 610.9,589.6 C607.2,591.9 604.5,592.5 601.0,593.8 C597.5,595.1 593.8,596.5 590.0,597.6 C586.2,598.7 581.8,599.6 578.0,600.2 C574.2,600.8 570.7,601.1 567.0,601.0 C563.3,600.9 559.7,600.3 556.0,599.4 C552.3,598.5 548.5,597.1 545.0,595.6 C541.5,594.1 538.1,592.1 535.0,590.2 C531.9,588.3 529.6,586.7 526.1,584.2 C522.6,581.8 517.8,578.5 514.3,575.5 C510.8,572.5 507.7,569.4 505.1,566.3 C502.5,563.2 500.4,560.1 498.5,557.1 C496.6,554.1 494.6,550.9 493.5,548.0 C492.4,545.1 492.1,543.0 491.8,540.0 C491.5,537.0 491.5,533.3 491.5,530.0 C491.5,526.7 491.6,523.3 491.8,520.0 C492.0,516.7 492.2,513.3 492.6,510.0 C493.0,506.7 493.8,503.3 494.3,500.0 C494.9,496.7 495.3,493.3 495.9,490.0 C496.4,486.7 497.1,483.3 497.6,480.0 C498.2,476.7 498.5,473.3 499.2,470.0 C499.9,466.7 500.6,463.8 501.7,460.0 C502.8,456.2 504.5,450.7 505.9,447.0 C507.3,443.3 508.6,440.8 509.9,437.7 C511.2,434.6 512.8,430.8 513.9,428.4 C515.0,426.0 516.0,424.9 516.5,423.1 C517.0,421.3 516.5,419.8 517.2,417.8 C517.9,415.8 519.1,413.2 520.5,411.2 C521.9,409.2 523.6,407.2 525.8,405.9 C528.0,404.6 531.4,403.9 533.8,403.2 C536.2,402.5 539.0,403.0 540.4,401.9 C541.8,400.8 541.5,398.3 542.4,396.6 C543.3,394.9 544.0,393.1 545.7,391.9 C547.4,390.7 550.4,390.5 552.4,389.3 C554.4,388.1 555.7,385.6 557.7,384.6Z" fill="rgb(192,192,192)" fill-opacity="0.4" filter="url(#sh0)"/><path d="M557.7,384.6 C559.7,383.6 562.2,383.7 564.3,383.3 C566.4,382.9 568.4,382.1 570.4,382.5 C572.4,382.9 574.2,384.7 576.3,386.0 C578.4,387.3 581.1,388.5 583.2,390.1 C585.3,391.8 587.6,394.2 589.0,395.9 C590.4,397.6 589.5,399.2 591.3,400.5 C593.0,401.8 596.8,402.2 599.5,403.4 C602.2,404.6 605.3,405.9 607.6,407.5 C609.9,409.1 612.0,411.4 613.4,413.3 C614.8,415.2 615.1,417.4 615.7,419.1 C616.3,420.9 616.1,421.9 616.9,423.8 C617.7,425.7 619.0,428.0 620.4,430.7 C621.8,433.4 623.7,436.8 625.0,440.0 C626.3,443.2 627.1,446.7 628.2,450.0 C629.4,453.3 630.8,456.7 631.9,460.0 C633.0,463.3 633.9,466.7 634.6,470.0 C635.4,473.3 635.8,476.7 636.4,480.0 C637.0,483.3 637.6,486.7 638.3,490.0 C639.0,493.3 639.7,496.7 640.4,500.0 C641.1,503.3 641.8,506.7 642.3,510.0 C642.8,513.3 643.4,516.7 643.7,520.0 C644.0,523.3 644.4,526.7 644.2,530.0 C644.0,533.3 643.3,536.7 642.7,540.0 C642.1,543.3 641.8,546.7 640.8,550.0 C639.8,553.3 638.5,556.7 636.8,560.0 C635.1,563.3 633.1,566.7 630.8,570.0 C628.5,573.3 626.2,576.7 622.9,580.0 C619.6,583.3 614.5,587.3 610.9,589.6 C607.2,591.9 604.5,592.5 601.0,593.8 C597.5,595.1 593.8,596.5 590.0,597.6 C586.2,598.7 581.8,599.6 578.0,600.2 C574.2,600.8 570.7,601.1 567.0,601.0 C563.3,600.9 559.7,600.3 556.0,599.4 C552.3,598.5 548.5,597.1 545.0,595.6 C541.5,594.1 538.1,592.1 535.0,590.2 C531.9,588.3 529.6,586.7 526.1,584.2 C522.6,581.8 517.8,578.5 514.3,575.5 C510.8,572.5 507.7,569.4 505.1,566.3 C502.5,563.2 500.4,560.1 498.5,557.1 C496.6,554.1 494.6,550.9 493.5,548.0 C492.4,545.1 492.1,543.0 491.8,540.0 C491.5,537.0 491.5,533.3 491.5,530.0 C491.5,526.7 491.6,523.3 491.8,520.0 C492.0,516.7 492.2,513.3 492.6,510.0 C493.0,506.7 493.8,503.3 494.3,500.0 C494.9,496.7 495.3,493.3 495.9,490.0 C496.4,486.7 497.1,483.3 497.6,480.0 C498.2,476.7 498.5,473.3 499.2,470.0 C499.9,466.7 500.6,463.8 501.7,460.0 C502.8,456.2 504.5,450.7 505.9,447.0 C507.3,443.3 508.6,440.8 509.9,437.7 C511.2,434.6 512.8,430.8 513.9,428.4 C515.0,426.0 516.0,424.9 516.5,423.1 C517.0,421.3 516.5,419.8 517.2,417.8 C517.9,415.8 519.1,413.2 520.5,411.2 C521.9,409.2 523.6,407.2 525.8,405.9 C528.0,404.6 531.4,403.9 533.8,403.2 C536.2,402.5 539.0,403.0 540.4,401.9 C541.8,400.8 541.5,398.3 542.4,396.6 C543.3,394.9 544.0,393.1 545.7,391.9 C547.4,390.7 550.4,390.5 552.4,389.3 C554.4,388.1 555.7,385.6 557.7,384.6Z" fill="rgb(192,192,192)" fill-opacity="0.25" filter="url(#sh1)"/><path d="M557.7,384.6 C559.7,383.6 562.2,383.7 564.3,383.3 C566.4,382.9 568.4,382.1 570.4,382.5 C572.4,382.9 574.2,384.7 576.3,386.0 C578.4,387.3 581.1,388.5 583.2,390.1 C585.3,391.8 587.6,394.2 589.0,395.9 C590.4,397.6 589.5,399.2 591.3,400.5 C593.0,401.8 596.8,402.2 599.5,403.4 C602.2,404.6 605.3,405.9 607.6,407.5 C609.9,409.1 612.0,411.4 613.4,413.3 C614.8,415.2 615.1,417.4 615.7,419.1 C616.3,420.9 616.1,421.9 616.9,423.8 C617.7,425.7 619.0,428.0 620.4,430.7 C621.8,433.4 623.7,436.8 625.0,440.0 C626.3,443.2 627.1,446.7 628.2,450.0 C629.4,453.3 630.8,456.7 631.9,460.0 C633.0,463.3 633.9,466.7 634.6,470.0 C635.4,473.3 635.8,476.7 636.4,480.0 C637.0,483.3 637.6,486.7 638.3,490.0 C639.0,493.3 639.7,496.7 640.4,500.0 C641.1,503.3 641.8,506.7 642.3,510.0 C642.8,513.3 643.4,516.7 643.7,520.0 C644.0,523.3 644.4,526.7 644.2,530.0 C644.0,533.3 643.3,536.7 642.7,540.0 C642.1,543.3 641.8,546.7 640.8,550.0 C639.8,553.3 638.5,556.7 636.8,560.0 C635.1,563.3 633.1,566.7 630.8,570.0 C628.5,573.3 626.2,576.7 622.9,580.0 C619.6,583.3 614.5,587.3 610.9,589.6 C607.2,591.9 604.5,592.5 601.0,593.8 C597.5,595.1 593.8,596.5 590.0,597.6 C586.2,598.7 581.8,599.6 578.0,600.2 C574.2,600.8 570.7,601.1 567.0,601.0 C563.3,600.9 559.7,600.3 556.0,599.4 C552.3,598.5 548.5,597.1 545.0,595.6 C541.5,594.1 538.1,592.1 535.0,590.2 C531.9,588.3 529.6,586.7 526.1,584.2 C522.6,581.8 517.8,578.5 514.3,575.5 C510.8,572.5 507.7,569.4 505.1,566.3 C502.5,563.2 500.4,560.1 498.5,557.1 C496.6,554.1 494.6,550.9 493.5,548.0 C492.4,545.1 492.1,543.0 491.8,540.0 C491.5,537.0 491.5,533.3 491.5,530.0 C491.5,526.7 491.6,523.3 491.8,520.0 C492.0,516.7 492.2,513.3 492.6,510.0 C493.0,506.7 493.8,503.3 494.3,500.0 C494.9,496.7 495.3,493.3 495.9,490.0 C496.4,486.7 497.1,483.3 497.6,480.0 C498.2,476.7 498.5,473.3 499.2,470.0 C499.9,466.7 500.6,463.8 501.7,460.0 C502.8,456.2 504.5,450.7 505.9,447.0 C507.3,443.3 508.6,440.8 509.9,437.7 C511.2,434.6 512.8,430.8 513.9,428.4 C515.0,426.0 516.0,424.9 516.5,423.1 C517.0,421.3 516.5,419.8 517.2,417.8 C517.9,415.8 519.1,413.2 520.5,411.2 C521.9,409.2 523.6,407.2 525.8,405.9 C528.0,404.6 531.4,403.9 533.8,403.2 C536.2,402.5 539.0,403.0 540.4,401.9 C541.8,400.8 541.5,398.3 542.4,396.6 C543.3,394.9 544.0,393.1 545.7,391.9 C547.4,390.7 550.4,390.5 552.4,389.3 C554.4,388.1 555.7,385.6 557.7,384.6Z" fill="rgb(192,192,192)" fill-opacity="1.0" filter="url(#sh2)"/></g>
<g clip-path="url(#c3)">
<ellipse cx="567.9" cy="453.4" rx="45.8" ry="70.1" fill="rgb(190,190,190)" opacity="0.2" filter="url(#bu)"/>
<path d="M512.0,425.0 C512.8,423.4 515.9,417.5 518.0,415.7 C520.1,413.9 528.7,408.5 532.6,406.9 C536.5,405.3 553.2,400.3 557.4,399.6 C561.6,398.9 570.8,399.0 574.9,399.6 C579.0,400.2 594.3,403.5 598.3,405.4 C602.2,407.3 612.2,416.3 614.4,418.6 C616.6,420.9 619.2,426.6 620.0,428.0 C620.8,429.4 623.7,432.2 622.0,432.8 C620.3,433.4 609.2,432.4 603.0,433.8 C596.8,435.2 567.6,447.3 560.3,447.2 C553.0,447.1 535.1,433.9 530.1,432.3 C525.1,430.7 511.8,432.0 510.0,431.3 C508.2,430.6 511.2,426.6 512.0,425.0Z" fill="#6e6e6e" opacity="0.22" filter="url(#bl2)"/>
<path d="M558.1,399.6 C556.3,400.9 557.2,410.9 556.0,412.7 C554.8,414.4 547.9,415.6 545.7,417.1 C543.5,418.6 534.8,425.7 534.1,427.3 C533.4,428.9 537.4,431.6 538.4,433.2 C539.4,434.8 542.1,441.8 544.3,443.4 C546.5,445.0 555.9,449.2 560.3,449.2 C564.7,449.2 584.5,445.3 588.1,443.4 C591.8,441.5 595.7,431.8 596.8,430.3 C597.9,428.8 599.4,429.5 599.0,428.8 C598.6,428.1 594.3,424.3 592.5,423.0 C590.7,421.7 582.3,416.7 580.8,415.7 C579.3,414.7 577.8,414.3 577.1,412.7 C576.4,411.1 576.1,400.9 574.2,399.6 C572.3,398.3 559.9,398.3 558.1,399.6Z" fill="#bdbdbd"/>
<path d="M512.0,409.0 C512.6,406.5 515.9,401.5 518.0,399.7 C520.1,397.9 528.7,392.5 532.6,390.9 C536.5,389.3 553.2,384.3 557.4,383.6 C561.6,382.9 570.8,383.0 574.9,383.6 C579.0,384.2 594.3,387.5 598.3,389.4 C602.2,391.3 612.2,400.3 614.4,402.6 C616.6,404.9 619.4,409.5 620.0,412.0 C620.6,414.5 620.6,427.3 620.0,428.0 C619.4,428.7 616.6,420.9 614.4,418.6 C612.2,416.3 602.2,407.3 598.3,405.4 C594.3,403.5 579.0,400.2 574.9,399.6 C570.8,399.0 561.6,398.9 557.4,399.6 C553.2,400.3 536.5,405.3 532.6,406.9 C528.7,408.5 520.1,413.9 518.0,415.7 C515.9,417.5 512.6,425.7 512.0,425.0 C511.4,424.3 511.4,411.5 512.0,409.0Z" fill="#a6a6a6" opacity="0.6" filter="url(#bl1)"/>
<ellipse cx="567.5" cy="392.8" rx="20.9" ry="9.5" fill="#adadad" opacity="0.85" filter="url(#bl2)"/>
<path d="M564.3,385.7 L571.2,385.7 L573.0,390.9 L562.4,390.9 Z" fill="#c6c6c6" opacity="0.9"/>
<path d="M562.1,392.7 Q567.6,388.3 573.1,392.7 Q567.6,392.1 562.1,392.7 Z" fill="#f2f2f2"/>
<circle cx="557.5" cy="392.8" r="2.5" fill="#6a6a6a" opacity="0.35"/>
<circle cx="577.0" cy="392.8" r="2.5" fill="#6a6a6a" opacity="0.35"/>
<path d="M512.0,425.0 C513.0,423.4 514.6,418.7 518.0,415.7 C521.4,412.7 526.0,409.6 532.6,406.9 C539.2,404.2 550.4,400.8 557.4,399.6 C564.4,398.4 568.1,398.6 574.9,399.6 C581.7,400.6 591.7,402.2 598.3,405.4 C604.9,408.6 610.8,414.8 614.4,418.6 C618.0,422.4 619.1,426.4 620.0,428.0" fill="none" stroke="#5f5f5f" stroke-width="2.2" stroke-opacity="0.8"/>
<path d="M551.9,454.2 C553.0,452.7 563.1,450.8 565.9,450.8 C568.7,450.8 578.7,452.7 579.9,454.2 C581.1,455.6 579.3,463.8 577.9,465.4 C576.5,466.9 568.2,469.8 565.9,469.8 C563.6,469.8 556.3,466.9 554.9,465.4 C553.5,463.8 550.8,455.6 551.9,454.2Z" fill="#a0a0a0" opacity="0.2"/>
<path d="M535.4,474.5 C535.6,474.3 542.7,470.7 543.5,470.3 C544.3,469.9 550.6,466.5 551.0,466.1 C551.4,465.8 551.6,463.0 551.6,462.7 C551.6,462.4 550.0,460.0 550.3,459.9 C550.6,459.7 557.5,458.9 557.8,459.2 C558.1,459.5 557.4,465.5 557.2,466.1 C557.0,466.8 553.8,472.0 553.4,472.4 C553.0,472.9 549.2,475.0 548.5,475.2 C547.8,475.4 540.5,475.9 539.8,475.9 C539.1,475.9 535.2,474.8 535.4,474.5Z" fill="#d0d0d0"/>
<path d="M578.9,459.2 C579.1,458.8 581.7,458.8 582.0,459.2 C582.3,459.6 582.9,464.8 583.2,465.5 C583.5,466.2 586.2,469.3 586.9,469.6 C587.6,469.9 593.4,470.0 594.4,470.3 C595.4,470.6 601.8,474.2 601.8,474.5 C601.8,474.9 595.3,475.3 594.4,475.2 C593.5,475.1 588.9,473.6 588.2,473.2 C587.5,472.8 583.8,469.5 583.2,468.9 C582.6,468.4 579.8,465.4 579.5,464.8 C579.2,464.2 578.7,459.6 578.9,459.2Z" fill="#d0d0d0"/>
<ellipse cx="566.6" cy="487.2" rx="14.5" ry="14.5" fill="#d2d2d2"/>
</g>
<g clip-path="url(#c3)"><path d="M557.7,384.6 C559.7,383.6 562.2,383.7 564.3,383.3 C566.4,382.9 568.4,382.1 570.4,382.5 C572.4,382.9 574.2,384.7 576.3,386.0 C578.4,387.3 581.1,388.5 583.2,390.1 C585.3,391.8 587.6,394.2 589.0,395.9 C590.4,397.6 589.5,399.2 591.3,400.5 C593.0,401.8 596.8,402.2 599.5,403.4 C602.2,404.6 605.3,405.9 607.6,407.5 C609.9,409.1 612.0,411.4 613.4,413.3 C614.8,415.2 615.1,417.4 615.7,419.1 C616.3,420.9 616.1,421.9 616.9,423.8 C617.7,425.7 619.0,428.0 620.4,430.7 C621.8,433.4 623.7,436.8 625.0,440.0 C626.3,443.2 627.1,446.7 628.2,450.0 C629.4,453.3 630.8,456.7 631.9,460.0 C633.0,463.3 633.9,466.7 634.6,470.0 C635.4,473.3 635.8,476.7 636.4,480.0 C637.0,483.3 637.6,486.7 638.3,490.0 C639.0,493.3 639.7,496.7 640.4,500.0 C641.1,503.3 641.8,506.7 642.3,510.0 C642.8,513.3 643.4,516.7 643.7,520.0 C644.0,523.3 644.4,526.7 644.2,530.0 C644.0,533.3 643.3,536.7 642.7,540.0 C642.1,543.3 641.8,546.7 640.8,550.0 C639.8,553.3 638.5,556.7 636.8,560.0 C635.1,563.3 633.1,566.7 630.8,570.0 C628.5,573.3 626.2,576.7 622.9,580.0 C619.6,583.3 614.5,587.3 610.9,589.6 C607.2,591.9 604.5,592.5 601.0,593.8 C597.5,595.1 593.8,596.5 590.0,597.6 C586.2,598.7 581.8,599.6 578.0,600.2 C574.2,600.8 570.7,601.1 567.0,601.0 C563.3,600.9 559.7,600.3 556.0,599.4 C552.3,598.5 548.5,597.1 545.0,595.6 C541.5,594.1 538.1,592.1 535.0,590.2 C531.9,588.3 529.6,586.7 526.1,584.2 C522.6,581.8 517.8,578.5 514.3,575.5 C510.8,572.5 507.7,569.4 505.1,566.3 C502.5,563.2 500.4,560.1 498.5,557.1 C496.6,554.1 494.6,550.9 493.5,548.0 C492.4,545.1 492.1,543.0 491.8,540.0 C491.5,537.0 491.5,533.3 491.5,530.0 C491.5,526.7 491.6,523.3 491.8,520.0 C492.0,516.7 492.2,513.3 492.6,510.0 C493.0,506.7 493.8,503.3 494.3,500.0 C494.9,496.7 495.3,493.3 495.9,490.0 C496.4,486.7 497.1,483.3 497.6,480.0 C498.2,476.7 498.5,473.3 499.2,470.0 C499.9,466.7 500.6,463.8 501.7,460.0 C502.8,456.2 504.5,450.7 505.9,447.0 C507.3,443.3 508.6,440.8 509.9,437.7 C511.2,434.6 512.8,430.8 513.9,428.4 C515.0,426.0 516.0,424.9 516.5,423.1 C517.0,421.3 516.5,419.8 517.2,417.8 C517.9,415.8 519.1,413.2 520.5,411.2 C521.9,409.2 523.6,407.2 525.8,405.9 C528.0,404.6 531.4,403.9 533.8,403.2 C536.2,402.5 539.0,403.0 540.4,401.9 C541.8,400.8 541.5,398.3 542.4,396.6 C543.3,394.9 544.0,393.1 545.7,391.9 C547.4,390.7 550.4,390.5 552.4,389.3 C554.4,388.1 555.7,385.6 557.7,384.6Z" fill="none" stroke="#000" stroke-width="6" stroke-opacity="0.2" filter="url(#be1)"/><path d="M557.7,384.6 C559.7,383.6 562.2,383.7 564.3,383.3 C566.4,382.9 568.4,382.1 570.4,382.5 C572.4,382.9 574.2,384.7 576.3,386.0 C578.4,387.3 581.1,388.5 583.2,390.1 C585.3,391.8 587.6,394.2 589.0,395.9 C590.4,397.6 589.5,399.2 591.3,400.5 C593.0,401.8 596.8,402.2 599.5,403.4 C602.2,404.6 605.3,405.9 607.6,407.5 C609.9,409.1 612.0,411.4 613.4,413.3 C614.8,415.2 615.1,417.4 615.7,419.1 C616.3,420.9 616.1,421.9 616.9,423.8 C617.7,425.7 619.0,428.0 620.4,430.7 C621.8,433.4 623.7,436.8 625.0,440.0 C626.3,443.2 627.1,446.7 628.2,450.0 C629.4,453.3 630.8,456.7 631.9,460.0 C633.0,463.3 633.9,466.7 634.6,470.0 C635.4,473.3 635.8,476.7 636.4,480.0 C637.0,483.3 637.6,486.7 638.3,490.0 C639.0,493.3 639.7,496.7 640.4,500.0 C641.1,503.3 641.8,506.7 642.3,510.0 C642.8,513.3 643.4,516.7 643.7,520.0 C644.0,523.3 644.4,526.7 644.2,530.0 C644.0,533.3 643.3,536.7 642.7,540.0 C642.1,543.3 641.8,546.7 640.8,550.0 C639.8,553.3 638.5,556.7 636.8,560.0 C635.1,563.3 633.1,566.7 630.8,570.0 C628.5,573.3 626.2,576.7 622.9,580.0 C619.6,583.3 614.5,587.3 610.9,589.6 C607.2,591.9 604.5,592.5 601.0,593.8 C597.5,595.1 593.8,596.5 590.0,597.6 C586.2,598.7 581.8,599.6 578.0,600.2 C574.2,600.8 570.7,601.1 567.0,601.0 C563.3,600.9 559.7,600.3 556.0,599.4 C552.3,598.5 548.5,597.1 545.0,595.6 C541.5,594.1 538.1,592.1 535.0,590.2 C531.9,588.3 529.6,586.7 526.1,584.2 C522.6,581.8 517.8,578.5 514.3,575.5 C510.8,572.5 507.7,569.4 505.1,566.3 C502.5,563.2 500.4,560.1 498.5,557.1 C496.6,554.1 494.6,550.9 493.5,548.0 C492.4,545.1 492.1,543.0 491.8,540.0 C491.5,537.0 491.5,533.3 491.5,530.0 C491.5,526.7 491.6,523.3 491.8,520.0 C492.0,516.7 492.2,513.3 492.6,510.0 C493.0,506.7 493.8,503.3 494.3,500.0 C494.9,496.7 495.3,493.3 495.9,490.0 C496.4,486.7 497.1,483.3 497.6,480.0 C498.2,476.7 498.5,473.3 499.2,470.0 C499.9,466.7 500.6,463.8 501.7,460.0 C502.8,456.2 504.5,450.7 505.9,447.0 C507.3,443.3 508.6,440.8 509.9,437.7 C511.2,434.6 512.8,430.8 513.9,428.4 C515.0,426.0 516.0,424.9 516.5,423.1 C517.0,421.3 516.5,419.8 517.2,417.8 C517.9,415.8 519.1,413.2 520.5,411.2 C521.9,409.2 523.6,407.2 525.8,405.9 C528.0,404.6 531.4,403.9 533.8,403.2 C536.2,402.5 539.0,403.0 540.4,401.9 C541.8,400.8 541.5,398.3 542.4,396.6 C543.3,394.9 544.0,393.1 545.7,391.9 C547.4,390.7 550.4,390.5 552.4,389.3 C554.4,388.1 555.7,385.6 557.7,384.6Z" fill="none" stroke="#000" stroke-width="40" stroke-opacity="0.0" filter="url(#be2)"/></g>
<path d="M557.7,384.6 C559.7,383.6 562.2,383.7 564.3,383.3 C566.4,382.9 568.4,382.1 570.4,382.5 C572.4,382.9 574.2,384.7 576.3,386.0 C578.4,387.3 581.1,388.5 583.2,390.1 C585.3,391.8 587.6,394.2 589.0,395.9 C590.4,397.6 589.5,399.2 591.3,400.5 C593.0,401.8 596.8,402.2 599.5,403.4 C602.2,404.6 605.3,405.9 607.6,407.5 C609.9,409.1 612.0,411.4 613.4,413.3 C614.8,415.2 615.1,417.4 615.7,419.1 C616.3,420.9 616.1,421.9 616.9,423.8 C617.7,425.7 619.0,428.0 620.4,430.7 C621.8,433.4 623.7,436.8 625.0,440.0 C626.3,443.2 627.1,446.7 628.2,450.0 C629.4,453.3 630.8,456.7 631.9,460.0 C633.0,463.3 633.9,466.7 634.6,470.0 C635.4,473.3 635.8,476.7 636.4,480.0 C637.0,483.3 637.6,486.7 638.3,490.0 C639.0,493.3 639.7,496.7 640.4,500.0 C641.1,503.3 641.8,506.7 642.3,510.0 C642.8,513.3 643.4,516.7 643.7,520.0 C644.0,523.3 644.4,526.7 644.2,530.0 C644.0,533.3 643.3,536.7 642.7,540.0 C642.1,543.3 641.8,546.7 640.8,550.0 C639.8,553.3 638.5,556.7 636.8,560.0 C635.1,563.3 633.1,566.7 630.8,570.0 C628.5,573.3 626.2,576.7 622.9,580.0 C619.6,583.3 614.5,587.3 610.9,589.6 C607.2,591.9 604.5,592.5 601.0,593.8 C597.5,595.1 593.8,596.5 590.0,597.6 C586.2,598.7 581.8,599.6 578.0,600.2 C574.2,600.8 570.7,601.1 567.0,601.0 C563.3,600.9 559.7,600.3 556.0,599.4 C552.3,598.5 548.5,597.1 545.0,595.6 C541.5,594.1 538.1,592.1 535.0,590.2 C531.9,588.3 529.6,586.7 526.1,584.2 C522.6,581.8 517.8,578.5 514.3,575.5 C510.8,572.5 507.7,569.4 505.1,566.3 C502.5,563.2 500.4,560.1 498.5,557.1 C496.6,554.1 494.6,550.9 493.5,548.0 C492.4,545.1 492.1,543.0 491.8,540.0 C491.5,537.0 491.5,533.3 491.5,530.0 C491.5,526.7 491.6,523.3 491.8,520.0 C492.0,516.7 492.2,513.3 492.6,510.0 C493.0,506.7 493.8,503.3 494.3,500.0 C494.9,496.7 495.3,493.3 495.9,490.0 C496.4,486.7 497.1,483.3 497.6,480.0 C498.2,476.7 498.5,473.3 499.2,470.0 C499.9,466.7 500.6,463.8 501.7,460.0 C502.8,456.2 504.5,450.7 505.9,447.0 C507.3,443.3 508.6,440.8 509.9,437.7 C511.2,434.6 512.8,430.8 513.9,428.4 C515.0,426.0 516.0,424.9 516.5,423.1 C517.0,421.3 516.5,419.8 517.2,417.8 C517.9,415.8 519.1,413.2 520.5,411.2 C521.9,409.2 523.6,407.2 525.8,405.9 C528.0,404.6 531.4,403.9 533.8,403.2 C536.2,402.5 539.0,403.0 540.4,401.9 C541.8,400.8 541.5,398.3 542.4,396.6 C543.3,394.9 544.0,393.1 545.7,391.9 C547.4,390.7 550.4,390.5 552.4,389.3 C554.4,388.1 555.7,385.6 557.7,384.6Z" fill="none" stroke="#555" stroke-width="0.7" stroke-opacity="0.5"/>

</g>
<!-- CHART -->
<g id="chart">
<rect x="308" y="55" width="262" height="262" fill="#ebebeb"/>
<g stroke="#fff" stroke-width="1.1">
<line x1="308" x2="570" y1="82.05" y2="82.05"/><line x1="308" x2="570" y1="151.55" y2="151.55"/><line x1="308" x2="570" y1="221.05" y2="221.05"/><line x1="308" x2="570" y1="290.55" y2="290.55"/>
<line y1="55" y2="317" x1="329.5" x2="329.5"/><line y1="55" y2="317" x1="401.8" x2="401.8"/><line y1="55" y2="317" x1="474" x2="474"/><line y1="55" y2="317" x1="546.2" x2="546.2"/>
</g>
<g stroke="#fff" stroke-width="2.2">
<line x1="308" x2="570" y1="116.8" y2="116.8"/><line x1="308" x2="570" y1="186.3" y2="186.3"/><line x1="308" x2="570" y1="255.8" y2="255.8"/>
<line y1="55" y2="317" x1="365.7" x2="365.7"/><line y1="55" y2="317" x1="437.9" x2="437.9"/><line y1="55" y2="317" x1="510.1" x2="510.1"/>
</g>
<g id="pts"><circle cx="391.6" cy="116.8" r="6.8" fill="#8da0cb"/><circle cx="538.6" cy="112.4" r="7.5" fill="#8da0cb"/><circle cx="538.8" cy="120.4" r="7.2" fill="#8da0cb"/><circle cx="377.3" cy="144.2" r="6.0" fill="#8da0cb"/><circle cx="415.9" cy="122.6" r="4.8" fill="#8da0cb"/><circle cx="419.2" cy="137.8" r="4.5" fill="#8da0cb"/><circle cx="416.7" cy="151.2" r="7.9" fill="#8da0cb"/><circle cx="425.9" cy="163.7" r="7.9" fill="#8da0cb"/><circle cx="521.0" cy="160.0" r="8.7" fill="#8da0cb"/><circle cx="524.0" cy="171.0" r="8.5" fill="#8da0cb"/><circle cx="369.0" cy="175.2" r="7.5" fill="#8da0cb"/><circle cx="444.0" cy="166.5" r="5.0" fill="#8da0cb"/><circle cx="486.5" cy="167.2" r="6.8" fill="#8da0cb"/><circle cx="504.5" cy="182.5" r="6.4" fill="#8da0cb"/><circle cx="557.7" cy="191.4" r="6.5" fill="#8da0cb"/><circle cx="430.3" cy="174.5" r="7.3" fill="#8da0cb"/><circle cx="432.7" cy="202.2" r="5.2" fill="#8da0cb"/><circle cx="403.5" cy="237.4" r="4.8" fill="#8da0cb"/><circle cx="490.0" cy="231.0" r="6.4" fill="#8da0cb"/><circle cx="542.1" cy="257.1" r="4.6" fill="#8da0cb"/><circle cx="389.8" cy="67.2" r="6.8" fill="#66c2a5"/><circle cx="361.7" cy="95.5" r="5.2" fill="#66c2a5"/><circle cx="350.3" cy="125.4" r="6.4" fill="#66c2a5"/><circle cx="393.5" cy="117.5" r="6.3" fill="#66c2a5"/><circle cx="425.0" cy="95.0" r="7.0" fill="#66c2a5"/><circle cx="436.2" cy="105.2" r="6.9" fill="#66c2a5"/><circle cx="408.1" cy="114.4" r="4.1" fill="#66c2a5"/><circle cx="426.6" cy="114.5" r="3.7" fill="#66c2a5"/><circle cx="440.7" cy="113.3" r="4.2" fill="#66c2a5"/><circle cx="456.2" cy="109.1" r="6.8" fill="#66c2a5"/><circle cx="468.4" cy="98.7" r="5.4" fill="#66c2a5"/><circle cx="487.1" cy="116.9" r="6.0" fill="#66c2a5"/><circle cx="517.1" cy="117.0" r="4.0" fill="#66c2a5"/><circle cx="339.5" cy="156.2" r="4.5" fill="#66c2a5"/><circle cx="369.4" cy="136.6" r="4.9" fill="#66c2a5"/><circle cx="375.9" cy="130.9" r="6.0" fill="#66c2a5"/><circle cx="384.6" cy="141.2" r="5.3" fill="#66c2a5"/><circle cx="377.8" cy="148.0" r="5.6" fill="#66c2a5"/><circle cx="432.2" cy="121.6" r="6.6" fill="#66c2a5"/><circle cx="413.4" cy="134.0" r="6.2" fill="#66c2a5"/><circle cx="412.6" cy="140.6" r="6.4" fill="#66c2a5"/><circle cx="400.4" cy="145.3" r="6.1" fill="#66c2a5"/><circle cx="407.8" cy="157.3" r="4.8" fill="#66c2a5"/><circle cx="420.0" cy="151.0" r="6.6" fill="#66c2a5"/><circle cx="430.0" cy="142.6" r="5.8" fill="#66c2a5"/><circle cx="439.0" cy="134.9" r="6.3" fill="#66c2a5"/><circle cx="459.3" cy="134.2" r="6.5" fill="#66c2a5"/><circle cx="469.6" cy="142.6" r="6.2" fill="#66c2a5"/><circle cx="467.8" cy="150.0" r="5.8" fill="#66c2a5"/><circle cx="490.9" cy="146.4" r="6.8" fill="#66c2a5"/><circle cx="479.3" cy="146.8" r="5.6" fill="#66c2a5"/><circle cx="479.7" cy="153.7" r="6.2" fill="#66c2a5"/><circle cx="438.3" cy="156.2" r="6.6" fill="#66c2a5"/><circle cx="423.4" cy="170.3" r="4.6" fill="#66c2a5"/><circle cx="435.0" cy="167.0" r="6.6" fill="#66c2a5"/><circle cx="403.0" cy="170.8" r="5.6" fill="#66c2a5"/><circle cx="374.0" cy="176.2" r="5.0" fill="#66c2a5"/><circle cx="397.3" cy="179.0" r="6.3" fill="#66c2a5"/><circle cx="461.9" cy="159.5" r="6.6" fill="#66c2a5"/><circle cx="470.2" cy="164.5" r="6.6" fill="#66c2a5"/><circle cx="447.0" cy="171.1" r="5.0" fill="#66c2a5"/><circle cx="479.7" cy="174.6" r="3.6" fill="#66c2a5"/><circle cx="493.7" cy="183.5" r="6.4" fill="#66c2a5"/><circle cx="504.9" cy="186.0" r="5.2" fill="#66c2a5"/><circle cx="520.5" cy="183.1" r="6.4" fill="#66c2a5"/><circle cx="421.1" cy="187.3" r="6.6" fill="#66c2a5"/><circle cx="432.7" cy="187.3" r="6.2" fill="#66c2a5"/><circle cx="433.5" cy="195.1" r="5.0" fill="#66c2a5"/><circle cx="441.8" cy="183.1" r="6.6" fill="#66c2a5"/><circle cx="413.5" cy="206.2" r="5.0" fill="#66c2a5"/><circle cx="419.6" cy="207.8" r="4.8" fill="#66c2a5"/><circle cx="401.0" cy="220.0" r="5.8" fill="#66c2a5"/><circle cx="470.0" cy="176.0" r="5.5" fill="#66c2a5"/><circle cx="463.8" cy="188.1" r="5.0" fill="#66c2a5"/><circle cx="458.8" cy="205.5" r="5.8" fill="#66c2a5"/><circle cx="479.5" cy="202.5" r="3.0" fill="#66c2a5"/><circle cx="398.0" cy="153.1" r="5.6" fill="#fc8d62"/><circle cx="429.6" cy="155.8" r="4.6" fill="#fc8d62"/><circle cx="431.2" cy="173.6" r="5.8" fill="#fc8d62"/><circle cx="411.9" cy="175.0" r="6.0" fill="#fc8d62"/><circle cx="383.6" cy="161.3" r="6.5" fill="#fc8d62"/><circle cx="379.3" cy="179.5" r="6.0" fill="#fc8d62"/><circle cx="319.7" cy="184.0" r="6.0" fill="#fc8d62"/><circle cx="368.5" cy="190.2" r="5.8" fill="#fc8d62"/><circle cx="363.9" cy="200.7" r="4.9" fill="#fc8d62"/><circle cx="364.8" cy="206.9" r="5.8" fill="#fc8d62"/><circle cx="353.2" cy="218.6" r="5.6" fill="#fc8d62"/><circle cx="358.0" cy="224.8" r="5.6" fill="#fc8d62"/><circle cx="454.3" cy="151.8" r="7.0" fill="#fc8d62"/><circle cx="456.9" cy="172.8" r="6.6" fill="#fc8d62"/><circle cx="465.2" cy="175.5" r="6.0" fill="#fc8d62"/><circle cx="447.4" cy="177.0" r="6.0" fill="#fc8d62"/><circle cx="493.9" cy="171.9" r="6.0" fill="#fc8d62"/><circle cx="512.6" cy="190.0" r="7.0" fill="#fc8d62"/><circle cx="375.1" cy="198.0" r="5.0" fill="#fc8d62"/><circle cx="385.4" cy="195.4" r="5.4" fill="#fc8d62"/><circle cx="375.0" cy="215.6" r="6.6" fill="#fc8d62"/><circle cx="381.7" cy="207.2" r="5.8" fill="#fc8d62"/><circle cx="392.5" cy="205.5" r="5.8" fill="#fc8d62"/><circle cx="398.3" cy="208.0" r="5.8" fill="#fc8d62"/><circle cx="398.7" cy="192.7" r="6.0" fill="#fc8d62"/><circle cx="409.9" cy="186.4" r="6.2" fill="#fc8d62"/><circle cx="406.0" cy="204.7" r="5.2" fill="#fc8d62"/><circle cx="419.8" cy="213.4" r="5.0" fill="#fc8d62"/><circle cx="426.0" cy="208.8" r="6.2" fill="#fc8d62"/><circle cx="438.5" cy="208.8" r="6.2" fill="#fc8d62"/><circle cx="445.5" cy="209.7" r="5.8" fill="#fc8d62"/><circle cx="428.5" cy="219.8" r="5.0" fill="#fc8d62"/><circle cx="448.0" cy="221.4" r="5.5" fill="#fc8d62"/><circle cx="454.0" cy="193.0" r="6.0" fill="#fc8d62"/><circle cx="458.8" cy="185.6" r="5.8" fill="#fc8d62"/><circle cx="465.4" cy="196.4" r="6.0" fill="#fc8d62"/><circle cx="472.9" cy="198.0" r="6.2" fill="#fc8d62"/><circle cx="463.8" cy="205.5" r="6.2" fill="#fc8d62"/><circle cx="474.5" cy="206.3" r="6.0" fill="#fc8d62"/><circle cx="461.0" cy="226.5" r="5.6" fill="#fc8d62"/><circle cx="483.1" cy="221.8" r="6.0" fill="#fc8d62"/><circle cx="492.9" cy="220.4" r="5.2" fill="#fc8d62"/><circle cx="499.0" cy="197.2" r="6.0" fill="#fc8d62"/><circle cx="519.9" cy="195.1" r="6.2" fill="#fc8d62"/><circle cx="503.8" cy="215.2" r="5.8" fill="#fc8d62"/><circle cx="329.1" cy="255.7" r="5.8" fill="#fc8d62"/><circle cx="394.4" cy="237.0" r="5.8" fill="#fc8d62"/><circle cx="392.3" cy="243.6" r="5.4" fill="#fc8d62"/><circle cx="385.2" cy="248.2" r="5.8" fill="#fc8d62"/><circle cx="386.5" cy="253.2" r="5.4" fill="#fc8d62"/><circle cx="372.8" cy="257.8" r="6.2" fill="#fc8d62"/><circle cx="378.6" cy="258.2" r="5.4" fill="#fc8d62"/><circle cx="400.0" cy="257.3" r="6.2" fill="#fc8d62"/><circle cx="400.5" cy="261.6" r="6.2" fill="#fc8d62"/><circle cx="407.6" cy="232.8" r="5.1" fill="#fc8d62"/><circle cx="413.4" cy="231.6" r="5.6" fill="#fc8d62"/><circle cx="419.2" cy="230.8" r="4.6" fill="#fc8d62"/><circle cx="430.4" cy="230.8" r="5.4" fill="#fc8d62"/><circle cx="430.8" cy="237.4" r="5.0" fill="#fc8d62"/><circle cx="434.1" cy="239.9" r="5.4" fill="#fc8d62"/><circle cx="440.8" cy="241.5" r="6.6" fill="#fc8d62"/><circle cx="427.5" cy="248.2" r="5.4" fill="#fc8d62"/><circle cx="458.6" cy="236.1" r="6.2" fill="#fc8d62"/><circle cx="471.0" cy="237.4" r="6.6" fill="#fc8d62"/><circle cx="473.5" cy="231.6" r="6.2" fill="#fc8d62"/><circle cx="488.4" cy="225.8" r="6.6" fill="#fc8d62"/><circle cx="482.2" cy="243.2" r="2.3" fill="#fc8d62"/><circle cx="466.9" cy="254.7" r="5.3" fill="#fc8d62"/><circle cx="476.8" cy="251.4" r="4.6" fill="#fc8d62"/><circle cx="477.3" cy="257.0" r="6.0" fill="#fc8d62"/><circle cx="494.0" cy="227.4" r="6.6" fill="#fc8d62"/><circle cx="489.0" cy="229.0" r="6.2" fill="#fc8d62"/><circle cx="498.4" cy="256.1" r="6.0" fill="#fc8d62"/><circle cx="504.0" cy="258.8" r="5.4" fill="#fc8d62"/><circle cx="382.7" cy="275.3" r="5.4" fill="#fc8d62"/><circle cx="399.0" cy="277.1" r="6.0" fill="#fc8d62"/><circle cx="426.0" cy="281.0" r="5.0" fill="#fc8d62"/><circle cx="449.2" cy="290.0" r="5.0" fill="#fc8d62"/><circle cx="454.9" cy="305.2" r="6.1" fill="#fc8d62"/><circle cx="477.2" cy="300.8" r="3.1" fill="#fc8d62"/></g>
<g stroke="#333" stroke-width="1.8">
<line x1="302" x2="308" y1="116.8" y2="116.8"/><line x1="302" x2="308" y1="186.3" y2="186.3"/><line x1="302" x2="308" y1="255.8" y2="255.8"/>
<line y1="317" y2="323" x1="365.7" x2="365.7"/><line y1="317" y2="323" x1="437.9" x2="437.9"/><line y1="317" y2="323" x1="510.1" x2="510.1"/>
</g>
<g fill="#4d4d4d" font-size="19" text-anchor="end">
<text x="297" y="123.7">0.025</text><text x="297" y="193.2">0.000</text><text x="297" y="262.7">−0.025</text>
</g>
<g fill="#4d4d4d" font-size="19" text-anchor="middle">
<text x="365.7" y="341.5">−0.04</text><text x="437.9" y="341.5">0.00</text><text x="510.1" y="341.5">0.04</text>
</g>
<text x="439" y="367.1" font-size="23.7" text-anchor="middle" fill="#000">PC1 (31.0%)</text>
<text transform="translate(227.3,185.5) rotate(-90)" font-size="23.7" text-anchor="middle" fill="#000">PC2 (13.1%)</text>
<text x="308" y="37.1" font-size="28" fill="#000">PCA on skull shape</text>
<!-- legend Type -->
<text x="605" y="37.3" font-size="23.2" fill="#000">Type</text>
<rect x="605" y="52.5" width="36.8" height="110.4" fill="#f2f2f2"/>
<g stroke="#f8f8f8" stroke-width="0.8"><line x1="605" x2="641.8" y1="89.2" y2="89.2"/><line x1="605" x2="641.8" y1="126" y2="126"/></g>
<circle cx="623.2" cy="70.9" r="4.9" fill="#8da0cb"/>
<circle cx="623.2" cy="107.7" r="4.9" fill="#66c2a5"/>
<circle cx="623.2" cy="144.5" r="4.9" fill="#fc8d62"/>
<g font-size="19" fill="#000">
<text x="653" y="77.8">MR</text><text x="653" y="114.6">C</text><text x="653" y="151.4">TG</text>
</g>
<!-- legend Age -->
<text x="605" y="230" font-size="23.2" fill="#000">Age</text>
<rect x="605" y="245.1" width="36.8" height="110.2" fill="#f2f2f2"/>
<g stroke="#f8f8f8" stroke-width="0.8"><line x1="605" x2="641.8" y1="281.8" y2="281.8"/><line x1="605" x2="641.8" y1="318.5" y2="318.5"/></g>
<circle cx="623.2" cy="263.5" r="5.5" fill="#000"/>
<circle cx="623.2" cy="300.2" r="7" fill="#000"/>
<circle cx="623.2" cy="336.9" r="8.4" fill="#000"/>
<g font-size="19" fill="#000">
<text x="653" y="270.3">200</text><text x="653" y="307">400</text><text x="653" y="343.7">600</text>
</g>
</g>
</svg>
</body></html>
